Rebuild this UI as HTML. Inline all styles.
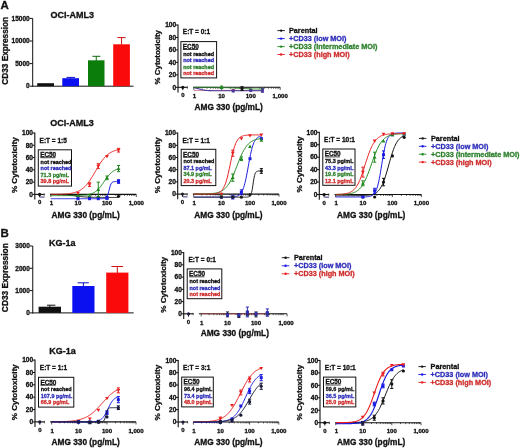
<!DOCTYPE html>
<html><head><meta charset="utf-8"><style>
html,body{margin:0;padding:0;background:#fff;}
body{width:520px;height:448px;overflow:hidden;}
svg{display:block;will-change:transform;filter:blur(0.22px);}
text{font-family:"Liberation Sans", sans-serif;}
</style></head><body>
<svg width="520" height="448" viewBox="0 0 520 448">
<rect width="520" height="448" fill="#fff"/>
<text x="0.60" y="9.36" font-size="11.5" fill="#111111" text-anchor="start" font-weight="bold" stroke="#111111" stroke-width="0.3" >A</text>
<text x="0.60" y="237.46" font-size="11.5" fill="#111111" text-anchor="start" font-weight="bold" stroke="#111111" stroke-width="0.3" >B</text>
<line x1="32.70" y1="18.40" x2="32.70" y2="86.70" stroke="#111111" stroke-width="1.0" />
<line x1="32.20" y1="86.20" x2="133.50" y2="86.20" stroke="#111111" stroke-width="1.0" />
<line x1="29.70" y1="86.20" x2="32.70" y2="86.20" stroke="#111111" stroke-width="1.0" />
<text x="29.70" y="88.44" font-size="6.5" fill="#111111" text-anchor="end" font-weight="bold" stroke="#111111" stroke-width="0.3" >0</text>
<line x1="29.70" y1="63.60" x2="32.70" y2="63.60" stroke="#111111" stroke-width="1.0" />
<text x="29.70" y="65.84" font-size="6.5" fill="#111111" text-anchor="end" font-weight="bold" stroke="#111111" stroke-width="0.3" >5000</text>
<line x1="29.70" y1="41.00" x2="32.70" y2="41.00" stroke="#111111" stroke-width="1.0" />
<text x="29.70" y="43.24" font-size="6.5" fill="#111111" text-anchor="end" font-weight="bold" stroke="#111111" stroke-width="0.3" >10000</text>
<line x1="29.70" y1="18.40" x2="32.70" y2="18.40" stroke="#111111" stroke-width="1.0" />
<text x="29.70" y="20.64" font-size="6.5" fill="#111111" text-anchor="end" font-weight="bold" stroke="#111111" stroke-width="0.3" >15000</text>
<rect x="37.20" y="83.20" width="16.80" height="3.00" fill="#111111" stroke="none" stroke-width="0"/>
<rect x="62.30" y="78.20" width="16.70" height="8.00" fill="#0a10f0" stroke="none" stroke-width="0"/>
<line x1="70.65" y1="77.40" x2="70.65" y2="78.70" stroke="#1010c0" stroke-width="1.0" />
<line x1="66.50" y1="77.40" x2="75.00" y2="77.40" stroke="#1010c0" stroke-width="1.0" />
<rect x="88.00" y="60.30" width="16.50" height="25.90" fill="#0b7d0b" stroke="none" stroke-width="0"/>
<line x1="96.25" y1="56.30" x2="96.25" y2="60.80" stroke="#0a6a0a" stroke-width="1.0" />
<line x1="92.40" y1="56.30" x2="100.40" y2="56.30" stroke="#0a6a0a" stroke-width="1.0" />
<rect x="113.20" y="44.30" width="16.70" height="41.90" fill="#fa0a0a" stroke="none" stroke-width="0"/>
<line x1="121.55" y1="37.60" x2="121.55" y2="44.80" stroke="#d01010" stroke-width="1.0" />
<line x1="117.40" y1="37.60" x2="125.60" y2="37.60" stroke="#d01010" stroke-width="1.0" />
<text transform="translate(7.74,50.80) rotate(-90)" x="0" y="0" font-size="8.25" fill="#111111" text-anchor="middle" font-weight="bold" stroke="#111111" stroke-width="0.3">CD33 Expression</text>
<text x="72.30" y="17.90" font-size="9.0" fill="#111111" text-anchor="middle" font-weight="bold" stroke="#111111" stroke-width="0.3" >OCI-AML3</text>
<line x1="32.75" y1="246.00" x2="32.75" y2="313.40" stroke="#111111" stroke-width="1.0" />
<line x1="32.25" y1="312.90" x2="133.70" y2="312.90" stroke="#111111" stroke-width="1.0" />
<line x1="29.75" y1="312.90" x2="32.75" y2="312.90" stroke="#111111" stroke-width="1.0" />
<text x="29.75" y="315.14" font-size="6.5" fill="#111111" text-anchor="end" font-weight="bold" stroke="#111111" stroke-width="0.3" >0</text>
<line x1="29.75" y1="290.60" x2="32.75" y2="290.60" stroke="#111111" stroke-width="1.0" />
<text x="29.75" y="292.84" font-size="6.5" fill="#111111" text-anchor="end" font-weight="bold" stroke="#111111" stroke-width="0.3" >1000</text>
<line x1="29.75" y1="268.30" x2="32.75" y2="268.30" stroke="#111111" stroke-width="1.0" />
<text x="29.75" y="270.54" font-size="6.5" fill="#111111" text-anchor="end" font-weight="bold" stroke="#111111" stroke-width="0.3" >2000</text>
<line x1="29.75" y1="246.00" x2="32.75" y2="246.00" stroke="#111111" stroke-width="1.0" />
<text x="29.75" y="248.24" font-size="6.5" fill="#111111" text-anchor="end" font-weight="bold" stroke="#111111" stroke-width="0.3" >3000</text>
<rect x="38.60" y="306.70" width="22.40" height="6.20" fill="#111111" stroke="none" stroke-width="0"/>
<line x1="49.80" y1="305.20" x2="49.80" y2="307.20" stroke="#111" stroke-width="1.0" />
<line x1="47.00" y1="305.20" x2="55.40" y2="305.20" stroke="#111" stroke-width="1.0" />
<rect x="72.30" y="286.00" width="22.20" height="26.90" fill="#0a10f0" stroke="none" stroke-width="0"/>
<line x1="83.40" y1="282.80" x2="83.40" y2="286.50" stroke="#1010c0" stroke-width="1.0" />
<line x1="77.60" y1="282.80" x2="88.80" y2="282.80" stroke="#1010c0" stroke-width="1.0" />
<rect x="106.20" y="272.60" width="22.20" height="40.30" fill="#fa0a0a" stroke="none" stroke-width="0"/>
<line x1="117.30" y1="266.50" x2="117.30" y2="273.10" stroke="#d01010" stroke-width="1.0" />
<line x1="111.40" y1="266.50" x2="123.10" y2="266.50" stroke="#d01010" stroke-width="1.0" />
<text transform="translate(7.79,277.70) rotate(-90)" x="0" y="0" font-size="8.4" fill="#111111" text-anchor="middle" font-weight="bold" stroke="#111111" stroke-width="0.3">CD33 Expression</text>
<text x="62.20" y="245.70" font-size="9.0" fill="#111111" text-anchor="middle" font-weight="bold" stroke="#111111" stroke-width="0.3" >KG-1a</text>
<line x1="178.00" y1="24.50" x2="178.00" y2="92.50" stroke="#111111" stroke-width="1.1" />
<line x1="175.70" y1="87.30" x2="178.00" y2="87.30" stroke="#111111" stroke-width="1.0" />
<text x="176.20" y="89.57" font-size="6.6" fill="#111111" text-anchor="end" font-weight="bold" stroke="#111111" stroke-width="0.3" >0</text>
<line x1="175.70" y1="74.84" x2="178.00" y2="74.84" stroke="#111111" stroke-width="1.0" />
<text x="176.20" y="77.11" font-size="6.6" fill="#111111" text-anchor="end" font-weight="bold" stroke="#111111" stroke-width="0.3" >20</text>
<line x1="175.70" y1="62.38" x2="178.00" y2="62.38" stroke="#111111" stroke-width="1.0" />
<text x="176.20" y="64.65" font-size="6.6" fill="#111111" text-anchor="end" font-weight="bold" stroke="#111111" stroke-width="0.3" >40</text>
<line x1="175.70" y1="49.92" x2="178.00" y2="49.92" stroke="#111111" stroke-width="1.0" />
<text x="176.20" y="52.19" font-size="6.6" fill="#111111" text-anchor="end" font-weight="bold" stroke="#111111" stroke-width="0.3" >60</text>
<line x1="175.70" y1="37.46" x2="178.00" y2="37.46" stroke="#111111" stroke-width="1.0" />
<text x="176.20" y="39.73" font-size="6.6" fill="#111111" text-anchor="end" font-weight="bold" stroke="#111111" stroke-width="0.3" >80</text>
<line x1="175.70" y1="25.00" x2="178.00" y2="25.00" stroke="#111111" stroke-width="1.0" />
<text x="176.20" y="27.27" font-size="6.6" fill="#111111" text-anchor="end" font-weight="bold" stroke="#111111" stroke-width="0.3" >100</text>
<line x1="178.00" y1="87.30" x2="187.80" y2="87.30" stroke="#111111" stroke-width="1.1" />
<line x1="182.80" y1="87.30" x2="182.80" y2="90.10" stroke="#111111" stroke-width="1.0" />
<line x1="187.40" y1="86.30" x2="187.40" y2="88.70" stroke="#444" stroke-width="0.9" />
<text x="182.80" y="97.36" font-size="6.0" fill="#111111" text-anchor="middle" font-weight="bold" stroke="#111111" stroke-width="0.3" >0</text>
<line x1="193.20" y1="87.30" x2="280.20" y2="87.30" stroke="#111111" stroke-width="1.1" />
<line x1="193.80" y1="87.30" x2="193.80" y2="89.90" stroke="#111111" stroke-width="0.7" />
<line x1="202.17" y1="87.30" x2="202.17" y2="88.70" stroke="#111111" stroke-width="0.7" />
<line x1="207.06" y1="87.30" x2="207.06" y2="88.70" stroke="#111111" stroke-width="0.7" />
<line x1="210.54" y1="87.30" x2="210.54" y2="88.70" stroke="#111111" stroke-width="0.7" />
<line x1="213.23" y1="87.30" x2="213.23" y2="88.70" stroke="#111111" stroke-width="0.7" />
<line x1="215.43" y1="87.30" x2="215.43" y2="88.70" stroke="#111111" stroke-width="0.7" />
<line x1="217.29" y1="87.30" x2="217.29" y2="88.70" stroke="#111111" stroke-width="0.7" />
<line x1="218.91" y1="87.30" x2="218.91" y2="88.70" stroke="#111111" stroke-width="0.7" />
<line x1="220.33" y1="87.30" x2="220.33" y2="88.70" stroke="#111111" stroke-width="0.7" />
<line x1="221.60" y1="87.30" x2="221.60" y2="89.90" stroke="#111111" stroke-width="0.7" />
<line x1="230.39" y1="87.30" x2="230.39" y2="88.70" stroke="#111111" stroke-width="0.7" />
<line x1="235.53" y1="87.30" x2="235.53" y2="88.70" stroke="#111111" stroke-width="0.7" />
<line x1="239.18" y1="87.30" x2="239.18" y2="88.70" stroke="#111111" stroke-width="0.7" />
<line x1="242.01" y1="87.30" x2="242.01" y2="88.70" stroke="#111111" stroke-width="0.7" />
<line x1="244.32" y1="87.30" x2="244.32" y2="88.70" stroke="#111111" stroke-width="0.7" />
<line x1="246.28" y1="87.30" x2="246.28" y2="88.70" stroke="#111111" stroke-width="0.7" />
<line x1="247.97" y1="87.30" x2="247.97" y2="88.70" stroke="#111111" stroke-width="0.7" />
<line x1="249.46" y1="87.30" x2="249.46" y2="88.70" stroke="#111111" stroke-width="0.7" />
<line x1="250.80" y1="87.30" x2="250.80" y2="89.90" stroke="#111111" stroke-width="0.7" />
<line x1="259.59" y1="87.30" x2="259.59" y2="88.70" stroke="#111111" stroke-width="0.7" />
<line x1="264.73" y1="87.30" x2="264.73" y2="88.70" stroke="#111111" stroke-width="0.7" />
<line x1="268.38" y1="87.30" x2="268.38" y2="88.70" stroke="#111111" stroke-width="0.7" />
<line x1="271.21" y1="87.30" x2="271.21" y2="88.70" stroke="#111111" stroke-width="0.7" />
<line x1="273.52" y1="87.30" x2="273.52" y2="88.70" stroke="#111111" stroke-width="0.7" />
<line x1="275.48" y1="87.30" x2="275.48" y2="88.70" stroke="#111111" stroke-width="0.7" />
<line x1="277.17" y1="87.30" x2="277.17" y2="88.70" stroke="#111111" stroke-width="0.7" />
<line x1="278.66" y1="87.30" x2="278.66" y2="88.70" stroke="#111111" stroke-width="0.7" />
<line x1="280.20" y1="87.30" x2="280.20" y2="89.90" stroke="#111111" stroke-width="0.7" />
<text x="194.40" y="98.00" font-size="6.1" fill="#111111" text-anchor="middle" font-weight="bold" stroke="#111111" stroke-width="0.3" >1</text>
<text x="221.60" y="98.00" font-size="6.1" fill="#111111" text-anchor="middle" font-weight="bold" stroke="#111111" stroke-width="0.3" >10</text>
<text x="250.80" y="98.00" font-size="6.1" fill="#111111" text-anchor="middle" font-weight="bold" stroke="#111111" stroke-width="0.3" >100</text>
<text x="280.20" y="98.00" font-size="6.1" fill="#111111" text-anchor="middle" font-weight="bold" stroke="#111111" stroke-width="0.3" >1,000</text>
<text x="228.70" y="110.16" font-size="8.3" fill="#111111" text-anchor="middle" font-weight="bold" stroke="#111111" stroke-width="0.3" >AMG 330 (pg/mL)</text>
<text transform="translate(160.22,57.20) rotate(-90)" x="0" y="0" font-size="7.9" fill="#111111" text-anchor="middle" font-weight="bold" stroke="#111111" stroke-width="0.3">% Cytotoxicity</text>
<text x="182.80" y="34.04" font-size="6.5" fill="#111111" text-anchor="start" font-weight="bold" stroke="#111111" stroke-width="0.3" >E:T = 0:1</text>
<rect x="180.90" y="41.60" width="35.70" height="36.30" fill="white" stroke="#111" stroke-width="1.0"/>
<text x="182.80" y="48.80" font-size="6.4" fill="#111111" text-anchor="start" font-weight="bold" stroke="#111111" stroke-width="0.3" >EC50</text>
<line x1="182.90" y1="49.50" x2="198.10" y2="49.50" stroke="#111111" stroke-width="0.8" />
<text x="183.20" y="55.77" font-size="5.45" fill="#111111" text-anchor="start" font-weight="bold" stroke="#111111" stroke-width="0.3" >not reached</text>
<text x="183.20" y="62.27" font-size="5.45" fill="#2e2eba" text-anchor="start" font-weight="bold" stroke="#2e2eba" stroke-width="0.3" >not reached</text>
<text x="183.20" y="68.77" font-size="5.45" fill="#2e802e" text-anchor="start" font-weight="bold" stroke="#2e802e" stroke-width="0.3" >not reached</text>
<text x="183.20" y="75.27" font-size="5.45" fill="#cf2c2c" text-anchor="start" font-weight="bold" stroke="#cf2c2c" stroke-width="0.3" >not reached</text>
<polyline points="193.80,90.41 194.36,90.41 194.91,90.41 195.47,90.41 196.02,90.41 196.58,90.41 197.13,90.41 197.69,90.41 198.24,90.41 198.80,90.41 199.36,90.41 199.91,90.41 200.47,90.41 201.02,90.41 201.58,90.41 202.13,90.41 202.69,90.41 203.24,90.41 203.80,90.41 204.35,90.41 204.91,90.41 205.47,90.41 206.02,90.41 206.58,90.41 207.13,90.41 207.69,90.41 208.24,90.41 208.80,90.41 209.35,90.41 209.91,90.41 210.47,90.41 211.02,90.41 211.58,90.41 212.13,90.41 212.69,90.41 213.24,90.41 213.80,90.41 214.35,90.41 214.91,90.41 215.47,90.41 216.02,90.41 216.58,90.41 217.13,90.41 217.69,90.41 218.24,90.41 218.80,90.41 219.35,90.41 219.91,90.41 220.47,90.41 221.02,90.41 221.58,90.41 222.16,90.41 222.74,90.41 223.33,90.41 223.91,90.41 224.49,90.41 225.08,90.41 225.66,90.41 226.24,90.41 226.83,90.41 227.41,90.41 227.99,90.41 228.58,90.41 229.16,90.41 229.74,90.41 230.33,90.41 230.91,90.41 231.49,90.41 232.08,90.41 232.66,90.41 233.24,90.41 233.83,90.41 234.41,90.41 235.00,90.41 235.58,90.41 236.16,90.41 236.75,90.41 237.33,90.41 237.91,90.41 238.50,90.41 239.08,90.41 239.66,90.41 240.25,90.41 240.83,90.41 241.41,90.41 242.00,90.41 242.58,90.41 243.16,90.41 243.75,90.41 244.33,90.41 244.91,90.41 245.50,90.41 246.08,90.41 246.67,90.41 247.25,90.41 247.83,90.41 248.42,90.41 249.00,90.41 249.58,90.41 250.17,90.41 250.75,90.41 251.33,90.41 251.92,90.41 252.50,90.41 253.08,90.41 253.67,90.41 254.25,90.41 254.83,90.41 255.42,90.41 256.00,90.41 256.58,90.41 257.17,90.41 257.75,90.41 258.34,90.41 258.92,90.41 259.50,90.41 260.09,90.41 260.67,90.41 261.25,90.41 261.84,90.41 262.42,90.41" fill="none" stroke="#c04060" stroke-width="0.8"/>
<polygon points="231.32,89.01 235.12,89.01 233.22,92.31" fill="#c04060"/>
<polygon points="248.90,89.01 252.70,89.01 250.80,92.31" fill="#c04060"/>
<polyline points="193.80,87.75 194.36,87.83 194.91,87.92 195.47,88.02 196.02,88.13 196.58,88.25 197.13,88.38 197.69,88.52 198.24,88.67 198.80,88.82 199.36,88.98 199.91,89.14 200.47,89.29 201.02,89.44 201.58,89.59 202.13,89.72 202.69,89.85 203.24,89.96 203.80,90.07 204.35,90.16 204.91,90.24 205.47,90.31 206.02,90.38 206.58,90.43 207.13,90.48 207.69,90.51 208.24,90.55 208.80,90.58 209.35,90.60 209.91,90.62 210.47,90.64 211.02,90.65 211.58,90.67 212.13,90.68 212.69,90.68 213.24,90.69 213.80,90.70 214.35,90.70 214.91,90.71 215.47,90.71 216.02,90.71 216.58,90.71 217.13,90.72 217.69,90.72 218.24,90.72 218.80,90.72 219.35,90.72 219.91,90.72 220.47,90.72 221.02,90.72 221.58,90.72 222.16,90.72 222.74,90.72 223.33,90.73 223.91,90.73 224.49,90.73 225.08,90.73 225.66,90.73 226.24,90.73 226.83,90.73 227.41,90.73 227.99,90.73 228.58,90.73 229.16,90.73 229.74,90.73 230.33,90.73 230.91,90.73 231.49,90.73 232.08,90.73 232.66,90.73 233.24,90.73 233.83,90.73 234.41,90.73 235.00,90.73 235.58,90.73 236.16,90.73 236.75,90.73 237.33,90.73 237.91,90.73 238.50,90.73 239.08,90.73 239.66,90.73 240.25,90.73 240.83,90.73 241.41,90.73 242.00,90.73 242.58,90.73 243.16,90.73 243.75,90.73 244.33,90.73 244.91,90.73 245.50,90.73 246.08,90.73 246.67,90.73 247.25,90.73 247.83,90.73 248.42,90.73 249.00,90.73 249.58,90.73 250.17,90.73 250.75,90.73 251.33,90.73 251.92,90.73 252.50,90.73 253.08,90.73 253.67,90.73 254.25,90.73 254.83,90.73 255.42,90.73 256.00,90.73 256.58,90.73 257.17,90.73 257.75,90.73 258.34,90.73 258.92,90.73 259.50,90.73 260.09,90.73 260.67,90.73 261.25,90.73 261.84,90.73 262.42,90.73" fill="none" stroke="#48389a" stroke-width="1.1"/>
<rect x="231.72" y="89.54" width="3.0" height="3.0" fill="#48389a"/>
<rect x="249.30" y="88.91" width="3.0" height="3.0" fill="#48389a"/>
<line x1="262.42" y1="92.28" x2="262.42" y2="88.55" stroke="#48389a" stroke-width="1.0" />
<line x1="260.82" y1="88.55" x2="264.02" y2="88.55" stroke="#48389a" stroke-width="1.0" />
<line x1="260.82" y1="92.28" x2="264.02" y2="92.28" stroke="#48389a" stroke-width="1.0" />
<rect x="260.92" y="88.91" width="3.0" height="3.0" fill="#48389a"/>
<polyline points="193.80,87.31 194.36,87.31 194.91,87.31 195.47,87.31 196.02,87.31 196.58,87.31 197.13,87.31 197.69,87.31 198.24,87.32 198.80,87.32 199.36,87.32 199.91,87.32 200.47,87.32 201.02,87.32 201.58,87.32 202.13,87.33 202.69,87.33 203.24,87.33 203.80,87.33 204.35,87.33 204.91,87.34 205.47,87.34 206.02,87.34 206.58,87.34 207.13,87.35 207.69,87.35 208.24,87.35 208.80,87.36 209.35,87.36 209.91,87.36 210.47,87.37 211.02,87.37 211.58,87.38 212.13,87.38 212.69,87.39 213.24,87.40 213.80,87.40 214.35,87.41 214.91,87.42 215.47,87.42 216.02,87.43 216.58,87.44 217.13,87.45 217.69,87.46 218.24,87.47 218.80,87.48 219.35,87.49 219.91,87.51 220.47,87.52 221.02,87.53 221.58,87.55 222.16,87.56 222.74,87.58 223.33,87.59 223.91,87.61 224.49,87.63 225.08,87.65 225.66,87.67 226.24,87.69 226.83,87.71 227.41,87.74 227.99,87.76 228.58,87.78 229.16,87.81 229.74,87.83 230.33,87.86 230.91,87.89 231.49,87.92 232.08,87.95 232.66,87.97 233.24,88.00 233.83,88.04 234.41,88.07 235.00,88.10 235.58,88.13 236.16,88.16 236.75,88.19 237.33,88.23 237.91,88.26 238.50,88.29 239.08,88.32 239.66,88.35 240.25,88.39 240.83,88.42 241.41,88.45 242.00,88.48 242.58,88.51 243.16,88.54 243.75,88.57 244.33,88.59 244.91,88.62 245.50,88.65 246.08,88.67 246.67,88.70 247.25,88.72 247.83,88.74 248.42,88.77 249.00,88.79 249.58,88.81 250.17,88.83 250.75,88.85 251.33,88.86 251.92,88.88 252.50,88.90 253.08,88.91 253.67,88.93 254.25,88.94 254.83,88.96 255.42,88.97 256.00,88.98 256.58,88.99 257.17,89.00 257.75,89.01 258.34,89.02 258.92,89.03 259.50,89.04 260.09,89.05 260.67,89.06 261.25,89.06 261.84,89.07 262.42,89.08" fill="none" stroke="#1f8a1f" stroke-width="0.9"/>
<line x1="221.60" y1="88.55" x2="221.60" y2="86.05" stroke="#1f8a1f" stroke-width="1.0" />
<line x1="220.00" y1="86.05" x2="223.20" y2="86.05" stroke="#1f8a1f" stroke-width="1.0" />
<line x1="220.00" y1="88.55" x2="223.20" y2="88.55" stroke="#1f8a1f" stroke-width="1.0" />
<polygon points="219.70,88.70 223.50,88.70 221.60,85.40" fill="#1f8a1f"/>
<polyline points="193.80,87.92 194.36,87.92 194.91,87.92 195.47,87.92 196.02,87.92 196.58,87.92 197.13,87.92 197.69,87.92 198.24,87.92 198.80,87.92 199.36,87.92 199.91,87.92 200.47,87.92 201.02,87.92 201.58,87.92 202.13,87.92 202.69,87.92 203.24,87.92 203.80,87.92 204.35,87.92 204.91,87.92 205.47,87.92 206.02,87.92 206.58,87.92 207.13,87.92 207.69,87.92 208.24,87.92 208.80,87.92 209.35,87.92 209.91,87.92 210.47,87.92 211.02,87.92 211.58,87.92 212.13,87.92 212.69,87.92 213.24,87.92 213.80,87.92 214.35,87.92 214.91,87.92 215.47,87.92 216.02,87.92 216.58,87.92 217.13,87.92 217.69,87.92 218.24,87.92 218.80,87.92 219.35,87.92 219.91,87.92 220.47,87.92 221.02,87.92 221.58,87.92 222.16,87.92 222.74,87.92 223.33,87.92 223.91,87.92 224.49,87.92 225.08,87.92 225.66,87.92 226.24,87.92 226.83,87.92 227.41,87.92 227.99,87.92 228.58,87.92 229.16,87.92 229.74,87.92 230.33,87.92 230.91,87.92 231.49,87.92 232.08,87.92 232.66,87.92 233.24,87.92 233.83,87.92 234.41,87.92 235.00,87.92 235.58,87.92 236.16,87.92 236.75,87.92 237.33,87.92 237.91,87.92 238.50,87.92 239.08,87.92 239.66,87.92 240.25,87.92 240.83,87.92 241.41,87.92 242.00,87.92 242.58,87.92 243.16,87.92 243.75,87.92 244.33,87.92 244.91,87.92 245.50,87.92 246.08,87.92 246.67,87.92 247.25,87.92 247.83,87.92 248.42,87.92 249.00,87.92 249.58,87.92 250.17,87.92 250.75,87.92 251.33,87.92 251.92,87.92 252.50,87.92 253.08,87.92 253.67,87.92 254.25,87.92 254.83,87.92 255.42,87.92 256.00,87.92 256.58,87.92 257.17,87.92 257.75,87.92 258.34,87.92 258.92,87.92 259.50,87.92 260.09,87.92 260.67,87.92 261.25,87.92 261.84,87.92 262.42,87.92" fill="none" stroke="#111111" stroke-width="0.0"/>
<circle cx="182.80" cy="87.30" r="1.6" fill="#111111"/>
<line x1="242.01" y1="90.41" x2="242.01" y2="86.68" stroke="#111111" stroke-width="1.0" />
<line x1="240.41" y1="86.68" x2="243.61" y2="86.68" stroke="#111111" stroke-width="1.0" />
<line x1="240.41" y1="90.41" x2="243.61" y2="90.41" stroke="#111111" stroke-width="1.0" />
<circle cx="242.01" cy="88.55" r="1.6" fill="#111111"/>
<line x1="34.80" y1="132.50" x2="34.80" y2="199.60" stroke="#111111" stroke-width="1.1" />
<line x1="32.50" y1="194.40" x2="34.80" y2="194.40" stroke="#111111" stroke-width="1.0" />
<text x="33.00" y="196.67" font-size="6.6" fill="#111111" text-anchor="end" font-weight="bold" stroke="#111111" stroke-width="0.3" >0</text>
<line x1="32.50" y1="182.12" x2="34.80" y2="182.12" stroke="#111111" stroke-width="1.0" />
<text x="33.00" y="184.39" font-size="6.6" fill="#111111" text-anchor="end" font-weight="bold" stroke="#111111" stroke-width="0.3" >20</text>
<line x1="32.50" y1="169.84" x2="34.80" y2="169.84" stroke="#111111" stroke-width="1.0" />
<text x="33.00" y="172.11" font-size="6.6" fill="#111111" text-anchor="end" font-weight="bold" stroke="#111111" stroke-width="0.3" >40</text>
<line x1="32.50" y1="157.56" x2="34.80" y2="157.56" stroke="#111111" stroke-width="1.0" />
<text x="33.00" y="159.83" font-size="6.6" fill="#111111" text-anchor="end" font-weight="bold" stroke="#111111" stroke-width="0.3" >60</text>
<line x1="32.50" y1="145.28" x2="34.80" y2="145.28" stroke="#111111" stroke-width="1.0" />
<text x="33.00" y="147.55" font-size="6.6" fill="#111111" text-anchor="end" font-weight="bold" stroke="#111111" stroke-width="0.3" >80</text>
<line x1="32.50" y1="133.00" x2="34.80" y2="133.00" stroke="#111111" stroke-width="1.0" />
<text x="33.00" y="135.27" font-size="6.6" fill="#111111" text-anchor="end" font-weight="bold" stroke="#111111" stroke-width="0.3" >100</text>
<line x1="34.80" y1="194.40" x2="44.60" y2="194.40" stroke="#111111" stroke-width="1.1" />
<line x1="39.60" y1="194.40" x2="39.60" y2="197.20" stroke="#111111" stroke-width="1.0" />
<line x1="44.20" y1="193.40" x2="44.20" y2="195.80" stroke="#444" stroke-width="0.9" />
<rect x="39.90" y="196.30" width="4.70" height="1.60" fill="#8080a8" stroke="none" stroke-width="0"/>
<text x="39.60" y="204.46" font-size="6.0" fill="#111111" text-anchor="middle" font-weight="bold" stroke="#111111" stroke-width="0.3" >0</text>
<line x1="50.00" y1="194.40" x2="136.30" y2="194.40" stroke="#111111" stroke-width="1.1" />
<line x1="50.80" y1="194.40" x2="50.80" y2="197.00" stroke="#111111" stroke-width="0.7" />
<line x1="58.99" y1="194.40" x2="58.99" y2="195.80" stroke="#111111" stroke-width="0.7" />
<line x1="63.78" y1="194.40" x2="63.78" y2="195.80" stroke="#111111" stroke-width="0.7" />
<line x1="67.18" y1="194.40" x2="67.18" y2="195.80" stroke="#111111" stroke-width="0.7" />
<line x1="69.81" y1="194.40" x2="69.81" y2="195.80" stroke="#111111" stroke-width="0.7" />
<line x1="71.97" y1="194.40" x2="71.97" y2="195.80" stroke="#111111" stroke-width="0.7" />
<line x1="73.79" y1="194.40" x2="73.79" y2="195.80" stroke="#111111" stroke-width="0.7" />
<line x1="75.36" y1="194.40" x2="75.36" y2="195.80" stroke="#111111" stroke-width="0.7" />
<line x1="76.76" y1="194.40" x2="76.76" y2="195.80" stroke="#111111" stroke-width="0.7" />
<line x1="78.00" y1="194.40" x2="78.00" y2="197.00" stroke="#111111" stroke-width="0.7" />
<line x1="86.73" y1="194.40" x2="86.73" y2="195.80" stroke="#111111" stroke-width="0.7" />
<line x1="91.84" y1="194.40" x2="91.84" y2="195.80" stroke="#111111" stroke-width="0.7" />
<line x1="95.46" y1="194.40" x2="95.46" y2="195.80" stroke="#111111" stroke-width="0.7" />
<line x1="98.27" y1="194.40" x2="98.27" y2="195.80" stroke="#111111" stroke-width="0.7" />
<line x1="100.57" y1="194.40" x2="100.57" y2="195.80" stroke="#111111" stroke-width="0.7" />
<line x1="102.51" y1="194.40" x2="102.51" y2="195.80" stroke="#111111" stroke-width="0.7" />
<line x1="104.19" y1="194.40" x2="104.19" y2="195.80" stroke="#111111" stroke-width="0.7" />
<line x1="105.67" y1="194.40" x2="105.67" y2="195.80" stroke="#111111" stroke-width="0.7" />
<line x1="107.00" y1="194.40" x2="107.00" y2="197.00" stroke="#111111" stroke-width="0.7" />
<line x1="115.73" y1="194.40" x2="115.73" y2="195.80" stroke="#111111" stroke-width="0.7" />
<line x1="120.84" y1="194.40" x2="120.84" y2="195.80" stroke="#111111" stroke-width="0.7" />
<line x1="124.46" y1="194.40" x2="124.46" y2="195.80" stroke="#111111" stroke-width="0.7" />
<line x1="127.27" y1="194.40" x2="127.27" y2="195.80" stroke="#111111" stroke-width="0.7" />
<line x1="129.57" y1="194.40" x2="129.57" y2="195.80" stroke="#111111" stroke-width="0.7" />
<line x1="131.51" y1="194.40" x2="131.51" y2="195.80" stroke="#111111" stroke-width="0.7" />
<line x1="133.19" y1="194.40" x2="133.19" y2="195.80" stroke="#111111" stroke-width="0.7" />
<line x1="134.67" y1="194.40" x2="134.67" y2="195.80" stroke="#111111" stroke-width="0.7" />
<line x1="136.30" y1="194.40" x2="136.30" y2="197.00" stroke="#111111" stroke-width="0.7" />
<text x="51.40" y="205.10" font-size="6.1" fill="#111111" text-anchor="middle" font-weight="bold" stroke="#111111" stroke-width="0.3" >1</text>
<text x="78.00" y="205.10" font-size="6.1" fill="#111111" text-anchor="middle" font-weight="bold" stroke="#111111" stroke-width="0.3" >10</text>
<text x="107.00" y="205.10" font-size="6.1" fill="#111111" text-anchor="middle" font-weight="bold" stroke="#111111" stroke-width="0.3" >100</text>
<text x="136.30" y="205.10" font-size="6.1" fill="#111111" text-anchor="middle" font-weight="bold" stroke="#111111" stroke-width="0.3" >1,000</text>
<text x="85.65" y="217.56" font-size="8.3" fill="#111111" text-anchor="middle" font-weight="bold" stroke="#111111" stroke-width="0.3" >AMG 330 (pg/mL)</text>
<text transform="translate(17.09,165.20) rotate(-90)" x="0" y="0" font-size="8.1" fill="#111111" text-anchor="middle" font-weight="bold" stroke="#111111" stroke-width="0.3">% Cytotoxicity</text>
<text x="39.60" y="142.64" font-size="6.5" fill="#111111" text-anchor="start" font-weight="bold" stroke="#111111" stroke-width="0.3" >E:T = 1:5</text>
<rect x="38.30" y="149.80" width="33.20" height="36.30" fill="white" stroke="#111" stroke-width="1.0"/>
<text x="40.20" y="157.00" font-size="6.4" fill="#111111" text-anchor="start" font-weight="bold" stroke="#111111" stroke-width="0.3" >EC50</text>
<line x1="40.30" y1="157.70" x2="55.50" y2="157.70" stroke="#111111" stroke-width="0.8" />
<text x="40.60" y="163.97" font-size="5.45" fill="#111111" text-anchor="start" font-weight="bold" stroke="#111111" stroke-width="0.3" >not reached</text>
<text x="40.60" y="170.47" font-size="5.45" fill="#2e2eba" text-anchor="start" font-weight="bold" stroke="#2e2eba" stroke-width="0.3" >not reached</text>
<text x="40.60" y="176.97" font-size="5.45" fill="#2e802e" text-anchor="start" font-weight="bold" stroke="#2e802e" stroke-width="0.3" >71.3 pg/mL</text>
<text x="40.60" y="183.47" font-size="5.45" fill="#cf2c2c" text-anchor="start" font-weight="bold" stroke="#cf2c2c" stroke-width="0.3" >39.8 pg/mL</text>
<polyline points="50.80,194.45 51.34,194.45 51.89,194.46 52.43,194.46 52.97,194.47 53.52,194.47 54.06,194.48 54.60,194.49 55.15,194.50 55.69,194.51 56.24,194.52 56.78,194.53 57.32,194.54 57.87,194.55 58.41,194.56 58.95,194.58 59.50,194.60 60.04,194.61 60.58,194.63 61.13,194.65 61.67,194.68 62.21,194.70 62.76,194.72 63.30,194.75 63.84,194.78 64.39,194.81 64.93,194.85 65.48,194.88 66.02,194.92 66.56,194.96 67.11,195.01 67.65,195.05 68.19,195.10 68.74,195.15 69.28,195.21 69.82,195.26 70.37,195.32 70.91,195.38 71.45,195.44 72.00,195.51 72.54,195.58 73.08,195.64 73.63,195.71 74.17,195.78 74.72,195.85 75.26,195.92 75.80,195.99 76.35,196.06 76.89,196.13 77.43,196.20 77.98,196.27 78.55,196.34 79.13,196.40 79.71,196.46 80.29,196.53 80.87,196.58 81.45,196.64 82.03,196.70 82.61,196.75 83.19,196.80 83.77,196.84 84.35,196.89 84.93,196.93 85.51,196.97 86.09,197.01 86.67,197.04 87.25,197.08 87.83,197.11 88.41,197.13 88.99,197.16 89.57,197.19 90.14,197.21 90.72,197.23 91.30,197.25 91.88,197.27 92.46,197.28 93.04,197.30 93.62,197.31 94.20,197.33 94.78,197.34 95.36,197.35 95.94,197.36 96.52,197.37 97.10,197.38 97.68,197.39 98.26,197.39 98.84,197.40 99.42,197.41 100.00,197.41 100.58,197.42 101.16,197.42 101.73,197.43 102.31,197.43 102.89,197.43 103.47,197.44 104.05,197.44 104.63,197.44 105.21,197.44 105.79,197.45 106.37,197.45 106.95,197.45 107.53,197.45 108.11,197.45 108.69,197.46 109.27,197.46 109.85,197.46 110.43,197.46 111.01,197.46 111.59,197.46 112.17,197.46 112.75,197.46 113.32,197.46 113.90,197.46 114.48,197.46 115.06,197.46 115.64,197.47 116.22,197.47 116.80,197.47 117.38,197.47 117.96,197.47 118.54,197.47" fill="none" stroke="#111111" stroke-width="1.0"/>
<circle cx="39.60" cy="194.40" r="1.6" fill="#111111"/>
<circle cx="78.00" cy="196.24" r="1.6" fill="#111111"/>
<circle cx="89.54" cy="197.47" r="1.6" fill="#111111"/>
<circle cx="98.27" cy="197.47" r="1.6" fill="#111111"/>
<circle cx="107.00" cy="197.47" r="1.6" fill="#111111"/>
<circle cx="118.54" cy="196.24" r="1.6" fill="#111111"/>
<polyline points="50.80,198.70 51.34,198.70 51.89,198.70 52.43,198.70 52.97,198.70 53.52,198.70 54.06,198.70 54.60,198.70 55.15,198.70 55.69,198.70 56.24,198.70 56.78,198.70 57.32,198.70 57.87,198.70 58.41,198.70 58.95,198.70 59.50,198.70 60.04,198.70 60.58,198.70 61.13,198.70 61.67,198.70 62.21,198.70 62.76,198.70 63.30,198.70 63.84,198.70 64.39,198.70 64.93,198.70 65.48,198.70 66.02,198.70 66.56,198.70 67.11,198.70 67.65,198.70 68.19,198.70 68.74,198.70 69.28,198.70 69.82,198.70 70.37,198.70 70.91,198.70 71.45,198.70 72.00,198.70 72.54,198.70 73.08,198.70 73.63,198.70 74.17,198.70 74.72,198.70 75.26,198.70 75.80,198.70 76.35,198.70 76.89,198.70 77.43,198.70 77.98,198.70 78.55,198.70 79.13,198.70 79.71,198.70 80.29,198.70 80.87,198.70 81.45,198.70 82.03,198.70 82.61,198.70 83.19,198.70 83.77,198.70 84.35,198.70 84.93,198.70 85.51,198.70 86.09,198.70 86.67,198.70 87.25,198.70 87.83,198.70 88.41,198.70 88.99,198.70 89.57,198.70 90.14,198.70 90.72,198.70 91.30,198.70 91.88,198.70 92.46,198.70 93.04,198.70 93.62,198.70 94.20,198.70 94.78,198.70 95.36,198.70 95.94,198.70 96.52,198.70 97.10,198.70 97.68,198.70 98.26,198.70 98.84,198.70 99.42,198.70 100.00,198.70 100.58,198.69 101.16,198.69 101.73,198.68 102.31,198.67 102.89,198.65 103.47,198.62 104.05,198.56 104.63,198.45 105.21,198.28 105.79,197.98 106.37,197.49 106.95,196.71 107.53,195.51 108.11,193.83 108.69,191.70 109.27,189.35 109.85,187.11 110.43,185.25 111.01,183.88 111.59,182.96 112.17,182.37 112.75,182.02 113.32,181.80 113.90,181.68 114.48,181.61 115.06,181.56 115.64,181.54 116.22,181.53 116.80,181.52 117.38,181.51 117.96,181.51 118.54,181.51" fill="none" stroke="#1c1ce0" stroke-width="1.0"/>
<rect x="76.50" y="197.20" width="3.0" height="3.0" fill="#1c1ce0"/>
<rect x="88.04" y="197.20" width="3.0" height="3.0" fill="#1c1ce0"/>
<rect x="96.77" y="197.20" width="3.0" height="3.0" fill="#1c1ce0"/>
<line x1="107.00" y1="199.31" x2="107.00" y2="196.86" stroke="#1c1ce0" stroke-width="1.0" />
<line x1="105.40" y1="196.86" x2="108.60" y2="196.86" stroke="#1c1ce0" stroke-width="1.0" />
<line x1="105.40" y1="199.31" x2="108.60" y2="199.31" stroke="#1c1ce0" stroke-width="1.0" />
<rect x="105.50" y="196.58" width="3.0" height="3.0" fill="#1c1ce0"/>
<line x1="118.54" y1="183.35" x2="118.54" y2="179.66" stroke="#1c1ce0" stroke-width="1.0" />
<line x1="116.94" y1="179.66" x2="120.14" y2="179.66" stroke="#1c1ce0" stroke-width="1.0" />
<line x1="116.94" y1="183.35" x2="120.14" y2="183.35" stroke="#1c1ce0" stroke-width="1.0" />
<rect x="117.04" y="180.01" width="3.0" height="3.0" fill="#1c1ce0"/>
<polyline points="50.80,195.63 51.34,195.63 51.89,195.63 52.43,195.63 52.97,195.63 53.52,195.63 54.06,195.63 54.60,195.63 55.15,195.63 55.69,195.63 56.24,195.63 56.78,195.63 57.32,195.63 57.87,195.63 58.41,195.63 58.95,195.63 59.50,195.63 60.04,195.63 60.58,195.63 61.13,195.62 61.67,195.62 62.21,195.62 62.76,195.62 63.30,195.62 63.84,195.62 64.39,195.62 64.93,195.62 65.48,195.62 66.02,195.62 66.56,195.62 67.11,195.62 67.65,195.62 68.19,195.61 68.74,195.61 69.28,195.61 69.82,195.61 70.37,195.60 70.91,195.60 71.45,195.60 72.00,195.59 72.54,195.59 73.08,195.59 73.63,195.58 74.17,195.57 74.72,195.57 75.26,195.56 75.80,195.55 76.35,195.54 76.89,195.53 77.43,195.52 77.98,195.50 78.55,195.49 79.13,195.47 79.71,195.45 80.29,195.43 80.87,195.40 81.45,195.37 82.03,195.34 82.61,195.30 83.19,195.26 83.77,195.22 84.35,195.17 84.93,195.11 85.51,195.04 86.09,194.97 86.67,194.89 87.25,194.80 87.83,194.70 88.41,194.58 88.99,194.45 89.57,194.31 90.14,194.15 90.72,193.98 91.30,193.78 91.88,193.56 92.46,193.32 93.04,193.06 93.62,192.76 94.20,192.44 94.78,192.09 95.36,191.70 95.94,191.28 96.52,190.82 97.10,190.32 97.68,189.79 98.26,189.21 98.84,188.60 99.42,187.95 100.00,187.26 100.58,186.54 101.16,185.79 101.73,185.01 102.31,184.21 102.89,183.38 103.47,182.55 104.05,181.71 104.63,180.86 105.21,180.02 105.79,179.19 106.37,178.38 106.95,177.59 107.53,176.82 108.11,176.09 108.69,175.38 109.27,174.71 109.85,174.08 110.43,173.49 111.01,172.94 111.59,172.42 112.17,171.95 112.75,171.51 113.32,171.10 113.90,170.73 114.48,170.40 115.06,170.09 115.64,169.81 116.22,169.56 116.80,169.33 117.38,169.12 117.96,168.94 118.54,168.77" fill="none" stroke="#1f8a1f" stroke-width="1.0"/>
<polygon points="76.10,197.03 79.90,197.03 78.00,193.73" fill="#1f8a1f"/>
<polygon points="87.64,197.03 91.44,197.03 89.54,193.73" fill="#1f8a1f"/>
<line x1="98.27" y1="196.86" x2="98.27" y2="182.12" stroke="#1f8a1f" stroke-width="1.0" />
<line x1="96.67" y1="182.12" x2="99.87" y2="182.12" stroke="#1f8a1f" stroke-width="1.0" />
<line x1="96.67" y1="196.86" x2="99.87" y2="196.86" stroke="#1f8a1f" stroke-width="1.0" />
<polygon points="96.37,190.89 100.17,190.89 98.27,187.59" fill="#1f8a1f"/>
<line x1="107.00" y1="179.66" x2="107.00" y2="175.98" stroke="#1f8a1f" stroke-width="1.0" />
<line x1="105.40" y1="175.98" x2="108.60" y2="175.98" stroke="#1f8a1f" stroke-width="1.0" />
<line x1="105.40" y1="179.66" x2="108.60" y2="179.66" stroke="#1f8a1f" stroke-width="1.0" />
<polygon points="105.10,179.22 108.90,179.22 107.00,175.92" fill="#1f8a1f"/>
<line x1="118.54" y1="171.68" x2="118.54" y2="165.54" stroke="#1f8a1f" stroke-width="1.0" />
<line x1="116.94" y1="165.54" x2="120.14" y2="165.54" stroke="#1f8a1f" stroke-width="1.0" />
<line x1="116.94" y1="171.68" x2="120.14" y2="171.68" stroke="#1f8a1f" stroke-width="1.0" />
<polygon points="116.64,170.01 120.44,170.01 118.54,166.71" fill="#1f8a1f"/>
<polyline points="50.80,194.36 51.34,194.35 51.89,194.35 52.43,194.35 52.97,194.34 53.52,194.34 54.06,194.33 54.60,194.32 55.15,194.32 55.69,194.31 56.24,194.30 56.78,194.29 57.32,194.28 57.87,194.27 58.41,194.26 58.95,194.24 59.50,194.23 60.04,194.22 60.58,194.20 61.13,194.18 61.67,194.16 62.21,194.14 62.76,194.11 63.30,194.09 63.84,194.06 64.39,194.03 64.93,194.00 65.48,193.96 66.02,193.92 66.56,193.88 67.11,193.83 67.65,193.78 68.19,193.72 68.74,193.66 69.28,193.59 69.82,193.52 70.37,193.44 70.91,193.36 71.45,193.26 72.00,193.16 72.54,193.05 73.08,192.93 73.63,192.80 74.17,192.66 74.72,192.51 75.26,192.35 75.80,192.17 76.35,191.98 76.89,191.77 77.43,191.54 77.98,191.30 78.55,191.04 79.13,190.75 79.71,190.45 80.29,190.12 80.87,189.77 81.45,189.39 82.03,188.99 82.61,188.56 83.19,188.10 83.77,187.61 84.35,187.08 84.93,186.53 85.51,185.94 86.09,185.32 86.67,184.67 87.25,183.98 87.83,183.26 88.41,182.50 88.99,181.72 89.57,180.90 90.14,180.05 90.72,179.17 91.30,178.27 91.88,177.34 92.46,176.39 93.04,175.42 93.62,174.44 94.20,173.45 94.78,172.44 95.36,171.44 95.94,170.43 96.52,169.43 97.10,168.44 97.68,167.45 98.26,166.48 98.84,165.53 99.42,164.60 100.00,163.69 100.58,162.81 101.16,161.96 101.73,161.14 102.31,160.34 102.89,159.59 103.47,158.86 104.05,158.17 104.63,157.51 105.21,156.88 105.79,156.29 106.37,155.73 106.95,155.21 107.53,154.71 108.11,154.25 108.69,153.81 109.27,153.41 109.85,153.03 110.43,152.67 111.01,152.34 111.59,152.03 112.17,151.75 112.75,151.48 113.32,151.24 113.90,151.01 114.48,150.80 115.06,150.60 115.64,150.42 116.22,150.26 116.80,150.10 117.38,149.96 117.96,149.83 118.54,149.71" fill="none" stroke="#e82020" stroke-width="1.0"/>
<polygon points="76.10,191.77 79.90,191.77 78.00,195.07" fill="#e82020"/>
<line x1="89.54" y1="186.42" x2="89.54" y2="182.73" stroke="#e82020" stroke-width="1.0" />
<line x1="87.94" y1="182.73" x2="91.14" y2="182.73" stroke="#e82020" stroke-width="1.0" />
<line x1="87.94" y1="186.42" x2="91.14" y2="186.42" stroke="#e82020" stroke-width="1.0" />
<polygon points="87.64,183.18 91.44,183.18 89.54,186.48" fill="#e82020"/>
<line x1="98.27" y1="168.61" x2="98.27" y2="163.70" stroke="#e82020" stroke-width="1.0" />
<line x1="96.67" y1="163.70" x2="99.87" y2="163.70" stroke="#e82020" stroke-width="1.0" />
<line x1="96.67" y1="168.61" x2="99.87" y2="168.61" stroke="#e82020" stroke-width="1.0" />
<polygon points="96.37,164.76 100.17,164.76 98.27,168.06" fill="#e82020"/>
<polygon points="105.10,154.93 108.90,154.93 107.00,158.23" fill="#e82020"/>
<line x1="118.54" y1="152.03" x2="118.54" y2="148.35" stroke="#e82020" stroke-width="1.0" />
<line x1="116.94" y1="148.35" x2="120.14" y2="148.35" stroke="#e82020" stroke-width="1.0" />
<line x1="116.94" y1="152.03" x2="120.14" y2="152.03" stroke="#e82020" stroke-width="1.0" />
<polygon points="116.64,148.79 120.44,148.79 118.54,152.09" fill="#e82020"/>
<text x="72.00" y="125.90" font-size="9.0" fill="#111111" text-anchor="middle" font-weight="bold" stroke="#111111" stroke-width="0.3" >OCI-AML3</text>
<line x1="177.70" y1="132.60" x2="177.70" y2="199.30" stroke="#111111" stroke-width="1.1" />
<line x1="175.40" y1="194.10" x2="177.70" y2="194.10" stroke="#111111" stroke-width="1.0" />
<text x="175.90" y="196.37" font-size="6.6" fill="#111111" text-anchor="end" font-weight="bold" stroke="#111111" stroke-width="0.3" >0</text>
<line x1="175.40" y1="181.90" x2="177.70" y2="181.90" stroke="#111111" stroke-width="1.0" />
<text x="175.90" y="184.17" font-size="6.6" fill="#111111" text-anchor="end" font-weight="bold" stroke="#111111" stroke-width="0.3" >20</text>
<line x1="175.40" y1="169.70" x2="177.70" y2="169.70" stroke="#111111" stroke-width="1.0" />
<text x="175.90" y="171.97" font-size="6.6" fill="#111111" text-anchor="end" font-weight="bold" stroke="#111111" stroke-width="0.3" >40</text>
<line x1="175.40" y1="157.50" x2="177.70" y2="157.50" stroke="#111111" stroke-width="1.0" />
<text x="175.90" y="159.77" font-size="6.6" fill="#111111" text-anchor="end" font-weight="bold" stroke="#111111" stroke-width="0.3" >60</text>
<line x1="175.40" y1="145.30" x2="177.70" y2="145.30" stroke="#111111" stroke-width="1.0" />
<text x="175.90" y="147.57" font-size="6.6" fill="#111111" text-anchor="end" font-weight="bold" stroke="#111111" stroke-width="0.3" >80</text>
<line x1="175.40" y1="133.10" x2="177.70" y2="133.10" stroke="#111111" stroke-width="1.0" />
<text x="175.90" y="135.37" font-size="6.6" fill="#111111" text-anchor="end" font-weight="bold" stroke="#111111" stroke-width="0.3" >100</text>
<line x1="177.70" y1="194.10" x2="187.50" y2="194.10" stroke="#111111" stroke-width="1.1" />
<line x1="182.50" y1="194.10" x2="182.50" y2="196.90" stroke="#111111" stroke-width="1.0" />
<line x1="187.10" y1="193.10" x2="187.10" y2="195.50" stroke="#444" stroke-width="0.9" />
<rect x="182.80" y="196.00" width="4.70" height="1.60" fill="#8080a8" stroke="none" stroke-width="0"/>
<text x="182.50" y="204.16" font-size="6.0" fill="#111111" text-anchor="middle" font-weight="bold" stroke="#111111" stroke-width="0.3" >0</text>
<line x1="192.90" y1="194.10" x2="279.00" y2="194.10" stroke="#111111" stroke-width="1.1" />
<line x1="193.60" y1="194.10" x2="193.60" y2="196.70" stroke="#111111" stroke-width="0.7" />
<line x1="201.97" y1="194.10" x2="201.97" y2="195.50" stroke="#111111" stroke-width="0.7" />
<line x1="206.86" y1="194.10" x2="206.86" y2="195.50" stroke="#111111" stroke-width="0.7" />
<line x1="210.34" y1="194.10" x2="210.34" y2="195.50" stroke="#111111" stroke-width="0.7" />
<line x1="213.03" y1="194.10" x2="213.03" y2="195.50" stroke="#111111" stroke-width="0.7" />
<line x1="215.23" y1="194.10" x2="215.23" y2="195.50" stroke="#111111" stroke-width="0.7" />
<line x1="217.09" y1="194.10" x2="217.09" y2="195.50" stroke="#111111" stroke-width="0.7" />
<line x1="218.71" y1="194.10" x2="218.71" y2="195.50" stroke="#111111" stroke-width="0.7" />
<line x1="220.13" y1="194.10" x2="220.13" y2="195.50" stroke="#111111" stroke-width="0.7" />
<line x1="221.40" y1="194.10" x2="221.40" y2="196.70" stroke="#111111" stroke-width="0.7" />
<line x1="230.01" y1="194.10" x2="230.01" y2="195.50" stroke="#111111" stroke-width="0.7" />
<line x1="235.05" y1="194.10" x2="235.05" y2="195.50" stroke="#111111" stroke-width="0.7" />
<line x1="238.62" y1="194.10" x2="238.62" y2="195.50" stroke="#111111" stroke-width="0.7" />
<line x1="241.39" y1="194.10" x2="241.39" y2="195.50" stroke="#111111" stroke-width="0.7" />
<line x1="243.66" y1="194.10" x2="243.66" y2="195.50" stroke="#111111" stroke-width="0.7" />
<line x1="245.57" y1="194.10" x2="245.57" y2="195.50" stroke="#111111" stroke-width="0.7" />
<line x1="247.23" y1="194.10" x2="247.23" y2="195.50" stroke="#111111" stroke-width="0.7" />
<line x1="248.69" y1="194.10" x2="248.69" y2="195.50" stroke="#111111" stroke-width="0.7" />
<line x1="250.00" y1="194.10" x2="250.00" y2="196.70" stroke="#111111" stroke-width="0.7" />
<line x1="258.61" y1="194.10" x2="258.61" y2="195.50" stroke="#111111" stroke-width="0.7" />
<line x1="263.65" y1="194.10" x2="263.65" y2="195.50" stroke="#111111" stroke-width="0.7" />
<line x1="267.22" y1="194.10" x2="267.22" y2="195.50" stroke="#111111" stroke-width="0.7" />
<line x1="269.99" y1="194.10" x2="269.99" y2="195.50" stroke="#111111" stroke-width="0.7" />
<line x1="272.26" y1="194.10" x2="272.26" y2="195.50" stroke="#111111" stroke-width="0.7" />
<line x1="274.17" y1="194.10" x2="274.17" y2="195.50" stroke="#111111" stroke-width="0.7" />
<line x1="275.83" y1="194.10" x2="275.83" y2="195.50" stroke="#111111" stroke-width="0.7" />
<line x1="277.29" y1="194.10" x2="277.29" y2="195.50" stroke="#111111" stroke-width="0.7" />
<line x1="279.00" y1="194.10" x2="279.00" y2="196.70" stroke="#111111" stroke-width="0.7" />
<text x="194.20" y="204.80" font-size="6.1" fill="#111111" text-anchor="middle" font-weight="bold" stroke="#111111" stroke-width="0.3" >1</text>
<text x="221.40" y="204.80" font-size="6.1" fill="#111111" text-anchor="middle" font-weight="bold" stroke="#111111" stroke-width="0.3" >10</text>
<text x="250.00" y="204.80" font-size="6.1" fill="#111111" text-anchor="middle" font-weight="bold" stroke="#111111" stroke-width="0.3" >100</text>
<text x="279.00" y="204.80" font-size="6.1" fill="#111111" text-anchor="middle" font-weight="bold" stroke="#111111" stroke-width="0.3" >1,000</text>
<text x="228.45" y="217.56" font-size="8.3" fill="#111111" text-anchor="middle" font-weight="bold" stroke="#111111" stroke-width="0.3" >AMG 330 (pg/mL)</text>
<text transform="translate(159.99,165.30) rotate(-90)" x="0" y="0" font-size="8.1" fill="#111111" text-anchor="middle" font-weight="bold" stroke="#111111" stroke-width="0.3">% Cytotoxicity</text>
<text x="182.50" y="142.64" font-size="6.5" fill="#111111" text-anchor="start" font-weight="bold" stroke="#111111" stroke-width="0.3" >E:T = 1:1</text>
<rect x="181.20" y="149.30" width="34.60" height="36.30" fill="white" stroke="#111" stroke-width="1.0"/>
<text x="183.10" y="156.50" font-size="6.4" fill="#111111" text-anchor="start" font-weight="bold" stroke="#111111" stroke-width="0.3" >EC50</text>
<line x1="183.20" y1="157.20" x2="198.40" y2="157.20" stroke="#111111" stroke-width="0.8" />
<text x="183.50" y="163.47" font-size="5.45" fill="#111111" text-anchor="start" font-weight="bold" stroke="#111111" stroke-width="0.3" >not reached</text>
<text x="183.50" y="169.97" font-size="5.45" fill="#2e2eba" text-anchor="start" font-weight="bold" stroke="#2e2eba" stroke-width="0.3" >87.1 pg/mL</text>
<text x="183.50" y="176.47" font-size="5.45" fill="#2e802e" text-anchor="start" font-weight="bold" stroke="#2e802e" stroke-width="0.3" >34.9 pg/mL</text>
<text x="183.50" y="182.97" font-size="5.45" fill="#cf2c2c" text-anchor="start" font-weight="bold" stroke="#cf2c2c" stroke-width="0.3" >20.3 pg/mL</text>
<polyline points="193.60,197.15 194.16,197.15 194.71,197.15 195.27,197.15 195.82,197.15 196.38,197.15 196.93,197.15 197.49,197.15 198.04,197.15 198.60,197.15 199.16,197.15 199.71,197.15 200.27,197.15 200.82,197.15 201.38,197.15 201.93,197.15 202.49,197.15 203.04,197.15 203.60,197.15 204.15,197.15 204.71,197.15 205.27,197.15 205.82,197.15 206.38,197.15 206.93,197.15 207.49,197.15 208.04,197.15 208.60,197.15 209.15,197.15 209.71,197.15 210.27,197.15 210.82,197.15 211.38,197.15 211.93,197.15 212.49,197.15 213.04,197.15 213.60,197.15 214.15,197.15 214.71,197.15 215.27,197.15 215.82,197.15 216.38,197.15 216.93,197.15 217.49,197.15 218.04,197.15 218.60,197.15 219.15,197.15 219.71,197.15 220.27,197.15 220.82,197.15 221.38,197.15 221.95,197.15 222.52,197.14 223.09,197.14 223.66,197.14 224.23,197.14 224.80,197.14 225.38,197.13 225.95,197.13 226.52,197.13 227.09,197.12 227.66,197.11 228.23,197.11 228.81,197.10 229.38,197.08 229.95,197.07 230.52,197.05 231.09,197.03 231.66,197.00 232.23,196.97 232.81,196.92 233.38,196.87 233.95,196.81 234.52,196.73 235.09,196.64 235.66,196.52 236.23,196.38 236.81,196.20 237.38,195.99 237.95,195.73 238.52,195.41 239.09,195.02 239.66,194.55 240.24,193.99 240.81,193.30 241.38,192.49 241.95,191.51 242.52,190.36 243.09,189.00 243.66,187.42 244.24,185.60 244.81,183.53 245.38,181.21 245.95,178.65 246.52,175.86 247.09,172.89 247.66,169.79 248.24,166.61 248.81,163.43 249.38,160.31 249.95,157.32 250.52,154.50 251.09,151.89 251.67,149.53 252.24,147.42 252.81,145.56 253.38,143.94 253.95,142.55 254.52,141.36 255.09,140.36 255.67,139.51 256.24,138.81 256.81,138.23 257.38,137.74 257.95,137.34 258.52,137.01 259.10,136.74 259.67,136.52 260.24,136.34 260.81,136.19 261.38,136.07" fill="none" stroke="#1c1ce0" stroke-width="1.0"/>
<rect x="219.90" y="195.65" width="3.0" height="3.0" fill="#1c1ce0"/>
<line x1="232.78" y1="198.98" x2="232.78" y2="195.32" stroke="#1c1ce0" stroke-width="1.0" />
<line x1="231.18" y1="195.32" x2="234.38" y2="195.32" stroke="#1c1ce0" stroke-width="1.0" />
<line x1="231.18" y1="198.98" x2="234.38" y2="198.98" stroke="#1c1ce0" stroke-width="1.0" />
<rect x="231.28" y="195.65" width="3.0" height="3.0" fill="#1c1ce0"/>
<line x1="241.39" y1="194.71" x2="241.39" y2="189.83" stroke="#1c1ce0" stroke-width="1.0" />
<line x1="239.79" y1="189.83" x2="242.99" y2="189.83" stroke="#1c1ce0" stroke-width="1.0" />
<line x1="239.79" y1="194.71" x2="242.99" y2="194.71" stroke="#1c1ce0" stroke-width="1.0" />
<rect x="239.89" y="190.77" width="3.0" height="3.0" fill="#1c1ce0"/>
<rect x="248.50" y="157.22" width="3.0" height="3.0" fill="#1c1ce0"/>
<rect x="259.88" y="137.09" width="3.0" height="3.0" fill="#1c1ce0"/>
<polyline points="193.60,194.08 194.16,194.08 194.71,194.08 195.27,194.08 195.82,194.08 196.38,194.07 196.93,194.07 197.49,194.07 198.04,194.06 198.60,194.06 199.16,194.05 199.71,194.05 200.27,194.04 200.82,194.04 201.38,194.03 201.93,194.02 202.49,194.01 203.04,194.00 203.60,193.99 204.15,193.98 204.71,193.97 205.27,193.95 205.82,193.94 206.38,193.92 206.93,193.90 207.49,193.88 208.04,193.85 208.60,193.82 209.15,193.79 209.71,193.76 210.27,193.72 210.82,193.68 211.38,193.63 211.93,193.58 212.49,193.53 213.04,193.46 213.60,193.39 214.15,193.31 214.71,193.23 215.27,193.13 215.82,193.03 216.38,192.91 216.93,192.78 217.49,192.64 218.04,192.48 218.60,192.30 219.15,192.11 219.71,191.90 220.27,191.66 220.82,191.40 221.38,191.12 221.95,190.80 222.52,190.46 223.09,190.08 223.66,189.67 224.23,189.21 224.80,188.72 225.38,188.18 225.95,187.60 226.52,186.97 227.09,186.28 227.66,185.54 228.23,184.75 228.81,183.89 229.38,182.98 229.95,182.00 230.52,180.97 231.09,179.88 231.66,178.72 232.23,177.51 232.81,176.25 233.38,174.94 233.95,173.58 234.52,172.19 235.09,170.76 235.66,169.30 236.23,167.83 236.81,166.35 237.38,164.86 237.95,163.39 238.52,161.92 239.09,160.48 239.66,159.07 240.24,157.70 240.81,156.37 241.38,155.08 241.95,153.85 242.52,152.68 243.09,151.56 243.66,150.50 244.24,149.50 244.81,148.56 245.38,147.68 245.95,146.86 246.52,146.10 247.09,145.39 247.66,144.74 248.24,144.13 248.81,143.58 249.38,143.06 249.95,142.60 250.52,142.17 251.09,141.78 251.67,141.42 252.24,141.09 252.81,140.79 253.38,140.52 253.95,140.28 254.52,140.06 255.09,139.86 255.67,139.67 256.24,139.51 256.81,139.36 257.38,139.22 257.95,139.10 258.52,138.99 259.10,138.89 259.67,138.80 260.24,138.72 260.81,138.65 261.38,138.58" fill="none" stroke="#1f8a1f" stroke-width="1.0"/>
<polygon points="219.50,195.50 223.30,195.50 221.40,192.20" fill="#1f8a1f"/>
<line x1="232.78" y1="181.29" x2="232.78" y2="173.97" stroke="#1f8a1f" stroke-width="1.0" />
<line x1="231.18" y1="173.97" x2="234.38" y2="173.97" stroke="#1f8a1f" stroke-width="1.0" />
<line x1="231.18" y1="181.29" x2="234.38" y2="181.29" stroke="#1f8a1f" stroke-width="1.0" />
<polygon points="230.88,179.03 234.68,179.03 232.78,175.73" fill="#1f8a1f"/>
<line x1="241.39" y1="160.55" x2="241.39" y2="156.89" stroke="#1f8a1f" stroke-width="1.0" />
<line x1="239.79" y1="156.89" x2="242.99" y2="156.89" stroke="#1f8a1f" stroke-width="1.0" />
<line x1="239.79" y1="160.55" x2="242.99" y2="160.55" stroke="#1f8a1f" stroke-width="1.0" />
<polygon points="239.49,160.12 243.29,160.12 241.39,156.82" fill="#1f8a1f"/>
<polygon points="248.10,147.92 251.90,147.92 250.00,144.62" fill="#1f8a1f"/>
<polygon points="259.48,141.82 263.28,141.82 261.38,138.52" fill="#1f8a1f"/>
<polyline points="193.60,194.10 194.16,194.10 194.71,194.10 195.27,194.10 195.82,194.10 196.38,194.10 196.93,194.10 197.49,194.10 198.04,194.10 198.60,194.10 199.16,194.10 199.71,194.10 200.27,194.10 200.82,194.10 201.38,194.10 201.93,194.09 202.49,194.09 203.04,194.09 203.60,194.09 204.15,194.09 204.71,194.09 205.27,194.08 205.82,194.08 206.38,194.08 206.93,194.07 207.49,194.07 208.04,194.06 208.60,194.05 209.15,194.04 209.71,194.03 210.27,194.01 210.82,194.00 211.38,193.97 211.93,193.95 212.49,193.92 213.04,193.88 213.60,193.84 214.15,193.79 214.71,193.72 215.27,193.65 215.82,193.56 216.38,193.45 216.93,193.32 217.49,193.16 218.04,192.98 218.60,192.75 219.15,192.49 219.71,192.17 220.27,191.80 220.82,191.36 221.38,190.83 221.95,190.22 222.52,189.49 223.09,188.65 223.66,187.67 224.23,186.53 224.80,185.23 225.38,183.75 225.95,182.09 226.52,180.23 227.09,178.18 227.66,175.95 228.23,173.56 228.81,171.03 229.38,168.39 229.95,165.69 230.52,162.97 231.09,160.27 231.66,157.65 232.23,155.13 232.81,152.76 233.38,150.55 233.95,148.53 234.52,146.70 235.09,145.06 235.66,143.61 236.23,142.33 236.81,141.22 237.38,140.26 237.95,139.43 238.52,138.72 239.09,138.12 239.66,137.61 240.24,137.17 240.81,136.81 241.38,136.50 241.95,136.24 242.52,136.03 243.09,135.84 243.66,135.69 244.24,135.57 244.81,135.46 245.38,135.37 245.95,135.30 246.52,135.24 247.09,135.19 247.66,135.14 248.24,135.11 248.81,135.08 249.38,135.05 249.95,135.03 250.52,135.01 251.09,135.00 251.67,134.99 252.24,134.98 252.81,134.97 253.38,134.96 253.95,134.96 254.52,134.95 255.09,134.95 255.67,134.95 256.24,134.94 256.81,134.94 257.38,134.94 257.95,134.94 258.52,134.94 259.10,134.94 259.67,134.93 260.24,134.93 260.81,134.93 261.38,134.93" fill="none" stroke="#e82020" stroke-width="1.0"/>
<polygon points="219.50,192.70 223.30,192.70 221.40,196.00" fill="#e82020"/>
<line x1="232.78" y1="156.28" x2="232.78" y2="150.18" stroke="#e82020" stroke-width="1.0" />
<line x1="231.18" y1="150.18" x2="234.38" y2="150.18" stroke="#e82020" stroke-width="1.0" />
<line x1="231.18" y1="156.28" x2="234.38" y2="156.28" stroke="#e82020" stroke-width="1.0" />
<polygon points="230.88,151.83 234.68,151.83 232.78,155.13" fill="#e82020"/>
<polygon points="239.49,137.19 243.29,137.19 241.39,140.49" fill="#e82020"/>
<polygon points="248.10,134.14 251.90,134.14 250.00,137.44" fill="#e82020"/>
<polygon points="259.48,133.53 263.28,133.53 261.38,136.83" fill="#e82020"/>
<polyline points="193.60,197.15 194.16,197.15 194.71,197.15 195.27,197.15 195.82,197.15 196.38,197.15 196.93,197.15 197.49,197.15 198.04,197.15 198.60,197.15 199.16,197.15 199.71,197.15 200.27,197.15 200.82,197.15 201.38,197.15 201.93,197.15 202.49,197.15 203.04,197.15 203.60,197.15 204.15,197.15 204.71,197.15 205.27,197.15 205.82,197.15 206.38,197.15 206.93,197.15 207.49,197.15 208.04,197.15 208.60,197.15 209.15,197.15 209.71,197.15 210.27,197.15 210.82,197.15 211.38,197.15 211.93,197.15 212.49,197.15 213.04,197.15 213.60,197.15 214.15,197.15 214.71,197.15 215.27,197.15 215.82,197.15 216.38,197.15 216.93,197.15 217.49,197.15 218.04,197.15 218.60,197.15 219.15,197.15 219.71,197.15 220.27,197.15 220.82,197.15 221.38,197.15 221.95,197.15 222.52,197.15 223.09,197.15 223.66,197.15 224.23,197.15 224.80,197.15 225.38,197.15 225.95,197.15 226.52,197.15 227.09,197.15 227.66,197.15 228.23,197.15 228.81,197.15 229.38,197.15 229.95,197.15 230.52,197.15 231.09,197.15 231.66,197.15 232.23,197.15 232.81,197.15 233.38,197.15 233.95,197.15 234.52,197.15 235.09,197.15 235.66,197.15 236.23,197.15 236.81,197.15 237.38,197.15 237.95,197.15 238.52,197.15 239.09,197.15 239.66,197.15 240.24,197.15 240.81,197.15 241.38,197.15 241.95,197.15 242.52,197.15 243.09,197.15 243.66,197.15 244.24,197.15 244.81,197.15 245.38,197.14 245.95,197.13 246.52,197.12 247.09,197.10 247.66,197.06 248.24,196.98 248.81,196.85 249.38,196.61 249.95,196.18 250.52,195.44 251.09,194.20 251.67,192.23 252.24,189.39 252.81,185.79 253.38,181.90 253.95,178.36 254.52,175.61 255.09,173.72 255.67,172.54 256.24,171.84 256.81,171.43 257.38,171.20 257.95,171.08 258.52,171.01 259.10,170.97 259.67,170.95 260.24,170.93 260.81,170.93 261.38,170.92" fill="none" stroke="#222" stroke-width="1.0"/>
<circle cx="182.50" cy="194.10" r="1.6" fill="#222"/>
<circle cx="221.40" cy="197.15" r="1.6" fill="#222"/>
<circle cx="232.78" cy="197.15" r="1.6" fill="#222"/>
<circle cx="241.39" cy="197.15" r="1.6" fill="#222"/>
<circle cx="250.00" cy="194.71" r="1.6" fill="#222"/>
<line x1="261.38" y1="173.36" x2="261.38" y2="168.48" stroke="#222" stroke-width="1.0" />
<line x1="259.78" y1="168.48" x2="262.98" y2="168.48" stroke="#222" stroke-width="1.0" />
<line x1="259.78" y1="173.36" x2="262.98" y2="173.36" stroke="#222" stroke-width="1.0" />
<circle cx="261.38" cy="170.92" r="1.6" fill="#222"/>
<line x1="319.30" y1="131.80" x2="319.30" y2="199.70" stroke="#111111" stroke-width="1.1" />
<line x1="317.00" y1="194.50" x2="319.30" y2="194.50" stroke="#111111" stroke-width="1.0" />
<text x="317.50" y="196.77" font-size="6.6" fill="#111111" text-anchor="end" font-weight="bold" stroke="#111111" stroke-width="0.3" >0</text>
<line x1="317.00" y1="182.06" x2="319.30" y2="182.06" stroke="#111111" stroke-width="1.0" />
<text x="317.50" y="184.33" font-size="6.6" fill="#111111" text-anchor="end" font-weight="bold" stroke="#111111" stroke-width="0.3" >20</text>
<line x1="317.00" y1="169.62" x2="319.30" y2="169.62" stroke="#111111" stroke-width="1.0" />
<text x="317.50" y="171.89" font-size="6.6" fill="#111111" text-anchor="end" font-weight="bold" stroke="#111111" stroke-width="0.3" >40</text>
<line x1="317.00" y1="157.18" x2="319.30" y2="157.18" stroke="#111111" stroke-width="1.0" />
<text x="317.50" y="159.45" font-size="6.6" fill="#111111" text-anchor="end" font-weight="bold" stroke="#111111" stroke-width="0.3" >60</text>
<line x1="317.00" y1="144.74" x2="319.30" y2="144.74" stroke="#111111" stroke-width="1.0" />
<text x="317.50" y="147.01" font-size="6.6" fill="#111111" text-anchor="end" font-weight="bold" stroke="#111111" stroke-width="0.3" >80</text>
<line x1="317.00" y1="132.30" x2="319.30" y2="132.30" stroke="#111111" stroke-width="1.0" />
<text x="317.50" y="134.57" font-size="6.6" fill="#111111" text-anchor="end" font-weight="bold" stroke="#111111" stroke-width="0.3" >100</text>
<line x1="319.30" y1="194.50" x2="329.10" y2="194.50" stroke="#111111" stroke-width="1.1" />
<line x1="324.10" y1="194.50" x2="324.10" y2="197.30" stroke="#111111" stroke-width="1.0" />
<line x1="328.70" y1="193.50" x2="328.70" y2="195.90" stroke="#444" stroke-width="0.9" />
<rect x="324.40" y="196.40" width="4.70" height="1.60" fill="#8080a8" stroke="none" stroke-width="0"/>
<text x="324.10" y="204.56" font-size="6.0" fill="#111111" text-anchor="middle" font-weight="bold" stroke="#111111" stroke-width="0.3" >0</text>
<line x1="334.50" y1="194.50" x2="421.40" y2="194.50" stroke="#111111" stroke-width="1.1" />
<line x1="335.60" y1="194.50" x2="335.60" y2="197.10" stroke="#111111" stroke-width="0.7" />
<line x1="343.82" y1="194.50" x2="343.82" y2="195.90" stroke="#111111" stroke-width="0.7" />
<line x1="348.63" y1="194.50" x2="348.63" y2="195.90" stroke="#111111" stroke-width="0.7" />
<line x1="352.04" y1="194.50" x2="352.04" y2="195.90" stroke="#111111" stroke-width="0.7" />
<line x1="354.68" y1="194.50" x2="354.68" y2="195.90" stroke="#111111" stroke-width="0.7" />
<line x1="356.84" y1="194.50" x2="356.84" y2="195.90" stroke="#111111" stroke-width="0.7" />
<line x1="358.67" y1="194.50" x2="358.67" y2="195.90" stroke="#111111" stroke-width="0.7" />
<line x1="360.25" y1="194.50" x2="360.25" y2="195.90" stroke="#111111" stroke-width="0.7" />
<line x1="361.65" y1="194.50" x2="361.65" y2="195.90" stroke="#111111" stroke-width="0.7" />
<line x1="362.90" y1="194.50" x2="362.90" y2="197.10" stroke="#111111" stroke-width="0.7" />
<line x1="371.78" y1="194.50" x2="371.78" y2="195.90" stroke="#111111" stroke-width="0.7" />
<line x1="376.98" y1="194.50" x2="376.98" y2="195.90" stroke="#111111" stroke-width="0.7" />
<line x1="380.66" y1="194.50" x2="380.66" y2="195.90" stroke="#111111" stroke-width="0.7" />
<line x1="383.52" y1="194.50" x2="383.52" y2="195.90" stroke="#111111" stroke-width="0.7" />
<line x1="385.86" y1="194.50" x2="385.86" y2="195.90" stroke="#111111" stroke-width="0.7" />
<line x1="387.83" y1="194.50" x2="387.83" y2="195.90" stroke="#111111" stroke-width="0.7" />
<line x1="389.54" y1="194.50" x2="389.54" y2="195.90" stroke="#111111" stroke-width="0.7" />
<line x1="391.05" y1="194.50" x2="391.05" y2="195.90" stroke="#111111" stroke-width="0.7" />
<line x1="392.40" y1="194.50" x2="392.40" y2="197.10" stroke="#111111" stroke-width="0.7" />
<line x1="401.28" y1="194.50" x2="401.28" y2="195.90" stroke="#111111" stroke-width="0.7" />
<line x1="406.48" y1="194.50" x2="406.48" y2="195.90" stroke="#111111" stroke-width="0.7" />
<line x1="410.16" y1="194.50" x2="410.16" y2="195.90" stroke="#111111" stroke-width="0.7" />
<line x1="413.02" y1="194.50" x2="413.02" y2="195.90" stroke="#111111" stroke-width="0.7" />
<line x1="415.36" y1="194.50" x2="415.36" y2="195.90" stroke="#111111" stroke-width="0.7" />
<line x1="417.33" y1="194.50" x2="417.33" y2="195.90" stroke="#111111" stroke-width="0.7" />
<line x1="419.04" y1="194.50" x2="419.04" y2="195.90" stroke="#111111" stroke-width="0.7" />
<line x1="420.55" y1="194.50" x2="420.55" y2="195.90" stroke="#111111" stroke-width="0.7" />
<line x1="421.40" y1="194.50" x2="421.40" y2="197.10" stroke="#111111" stroke-width="0.7" />
<text x="336.20" y="205.20" font-size="6.1" fill="#111111" text-anchor="middle" font-weight="bold" stroke="#111111" stroke-width="0.3" >1</text>
<text x="362.90" y="205.20" font-size="6.1" fill="#111111" text-anchor="middle" font-weight="bold" stroke="#111111" stroke-width="0.3" >10</text>
<text x="392.40" y="205.20" font-size="6.1" fill="#111111" text-anchor="middle" font-weight="bold" stroke="#111111" stroke-width="0.3" >100</text>
<text x="421.40" y="205.20" font-size="6.1" fill="#111111" text-anchor="middle" font-weight="bold" stroke="#111111" stroke-width="0.3" >1,000</text>
<text x="371.15" y="217.56" font-size="8.3" fill="#111111" text-anchor="middle" font-weight="bold" stroke="#111111" stroke-width="0.3" >AMG 330 (pg/mL)</text>
<text transform="translate(301.59,164.50) rotate(-90)" x="0" y="0" font-size="8.1" fill="#111111" text-anchor="middle" font-weight="bold" stroke="#111111" stroke-width="0.3">% Cytotoxicity</text>
<text x="324.10" y="141.74" font-size="6.5" fill="#111111" text-anchor="start" font-weight="bold" stroke="#111111" stroke-width="0.3" >E:T = 10:1</text>
<rect x="322.80" y="149.00" width="32.20" height="36.30" fill="white" stroke="#111" stroke-width="1.0"/>
<text x="324.70" y="156.20" font-size="6.4" fill="#111111" text-anchor="start" font-weight="bold" stroke="#111111" stroke-width="0.3" >EC50</text>
<line x1="324.80" y1="156.90" x2="340.00" y2="156.90" stroke="#111111" stroke-width="0.8" />
<text x="325.10" y="163.17" font-size="5.45" fill="#111111" text-anchor="start" font-weight="bold" stroke="#111111" stroke-width="0.3" >75.3 pg/mL</text>
<text x="325.10" y="169.67" font-size="5.45" fill="#2e2eba" text-anchor="start" font-weight="bold" stroke="#2e2eba" stroke-width="0.3" >43.3 pg/mL</text>
<text x="325.10" y="176.17" font-size="5.45" fill="#2e802e" text-anchor="start" font-weight="bold" stroke="#2e802e" stroke-width="0.3" >19.6 pg/mL</text>
<text x="325.10" y="182.67" font-size="5.45" fill="#cf2c2c" text-anchor="start" font-weight="bold" stroke="#cf2c2c" stroke-width="0.3" >12.1 pg/mL</text>
<polyline points="335.60,195.74 336.15,195.74 336.69,195.74 337.24,195.74 337.78,195.74 338.33,195.74 338.87,195.74 339.42,195.74 339.96,195.74 340.51,195.74 341.06,195.74 341.60,195.74 342.15,195.74 342.69,195.74 343.24,195.74 343.78,195.74 344.33,195.74 344.87,195.74 345.42,195.74 345.97,195.74 346.51,195.74 347.06,195.74 347.60,195.74 348.15,195.74 348.69,195.74 349.24,195.74 349.78,195.74 350.33,195.74 350.87,195.74 351.42,195.74 351.97,195.73 352.51,195.73 353.06,195.73 353.60,195.73 354.15,195.73 354.69,195.73 355.24,195.72 355.78,195.72 356.33,195.72 356.88,195.71 357.42,195.71 357.97,195.70 358.51,195.70 359.06,195.69 359.60,195.68 360.15,195.67 360.69,195.66 361.24,195.65 361.79,195.64 362.33,195.62 362.88,195.60 363.46,195.58 364.05,195.56 364.64,195.53 365.23,195.50 365.82,195.46 366.41,195.42 367.00,195.37 367.59,195.31 368.18,195.25 368.77,195.18 369.36,195.10 369.95,195.00 370.54,194.89 371.13,194.77 371.72,194.63 372.31,194.47 372.90,194.28 373.49,194.07 374.08,193.83 374.66,193.56 375.25,193.25 375.84,192.89 376.43,192.50 377.02,192.04 377.61,191.53 378.20,190.96 378.79,190.31 379.38,189.59 379.97,188.78 380.56,187.88 381.15,186.88 381.74,185.79 382.33,184.58 382.92,183.26 383.51,181.83 384.10,180.29 384.69,178.64 385.28,176.88 385.86,175.03 386.45,173.09 387.04,171.08 387.63,169.01 388.22,166.91 388.81,164.79 389.40,162.67 389.99,160.57 390.58,158.51 391.17,156.51 391.76,154.58 392.35,152.74 392.94,151.00 393.53,149.37 394.12,147.84 394.71,146.43 395.30,145.13 395.89,143.94 396.48,142.86 397.07,141.88 397.65,141.00 398.24,140.20 398.83,139.49 399.42,138.86 400.01,138.29 400.60,137.79 401.19,137.35 401.78,136.96 402.37,136.61 402.96,136.31 403.55,136.04 404.14,135.80" fill="none" stroke="#111111" stroke-width="1.0"/>
<circle cx="324.10" cy="194.50" r="1.6" fill="#111111"/>
<circle cx="362.90" cy="196.99" r="1.6" fill="#111111"/>
<circle cx="374.64" cy="196.99" r="1.6" fill="#111111"/>
<line x1="383.52" y1="185.79" x2="383.52" y2="178.33" stroke="#111111" stroke-width="1.0" />
<line x1="381.92" y1="178.33" x2="385.12" y2="178.33" stroke="#111111" stroke-width="1.0" />
<line x1="381.92" y1="185.79" x2="385.12" y2="185.79" stroke="#111111" stroke-width="1.0" />
<circle cx="383.52" cy="182.06" r="1.6" fill="#111111"/>
<circle cx="392.40" cy="155.94" r="1.6" fill="#111111"/>
<circle cx="404.14" cy="137.28" r="1.6" fill="#111111"/>
<polyline points="335.60,196.99 336.15,196.99 336.69,196.99 337.24,196.99 337.78,196.99 338.33,196.99 338.87,196.99 339.42,196.99 339.96,196.99 340.51,196.99 341.06,196.99 341.60,196.99 342.15,196.99 342.69,196.99 343.24,196.99 343.78,196.99 344.33,196.99 344.87,196.99 345.42,196.99 345.97,196.99 346.51,196.99 347.06,196.99 347.60,196.99 348.15,196.99 348.69,196.99 349.24,196.99 349.78,196.99 350.33,196.99 350.87,196.99 351.42,196.99 351.97,196.99 352.51,196.99 353.06,196.99 353.60,196.99 354.15,196.99 354.69,196.99 355.24,196.99 355.78,196.99 356.33,196.99 356.88,196.98 357.42,196.98 357.97,196.98 358.51,196.98 359.06,196.98 359.60,196.98 360.15,196.97 360.69,196.97 361.24,196.97 361.79,196.96 362.33,196.95 362.88,196.95 363.46,196.94 364.05,196.92 364.64,196.91 365.23,196.88 365.82,196.86 366.41,196.82 367.00,196.78 367.59,196.73 368.18,196.66 368.77,196.57 369.36,196.47 369.95,196.34 370.54,196.17 371.13,195.96 371.72,195.70 372.31,195.38 372.90,194.97 373.49,194.47 374.08,193.85 374.66,193.09 375.25,192.16 375.84,191.02 376.43,189.66 377.02,188.03 377.61,186.10 378.20,183.86 378.79,181.30 379.38,178.42 379.97,175.24 380.56,171.83 381.15,168.24 381.74,164.57 382.33,160.90 382.92,157.35 383.51,153.98 384.10,150.86 384.69,148.04 385.28,145.55 385.86,143.38 386.45,141.52 387.04,139.94 387.63,138.63 388.22,137.54 388.81,136.65 389.40,135.92 389.99,135.32 390.58,134.85 391.17,134.46 391.76,134.15 392.35,133.90 392.94,133.70 393.53,133.54 394.12,133.42 394.71,133.32 395.30,133.24 395.89,133.17 396.48,133.12 397.07,133.08 397.65,133.05 398.24,133.02 398.83,133.00 399.42,132.98 400.01,132.97 400.60,132.96 401.19,132.95 401.78,132.95 402.37,132.94 402.96,132.94 403.55,132.93 404.14,132.93" fill="none" stroke="#1c1ce0" stroke-width="1.0"/>
<rect x="361.40" y="195.49" width="3.0" height="3.0" fill="#1c1ce0"/>
<line x1="374.64" y1="193.26" x2="374.64" y2="188.28" stroke="#1c1ce0" stroke-width="1.0" />
<line x1="373.04" y1="188.28" x2="376.24" y2="188.28" stroke="#1c1ce0" stroke-width="1.0" />
<line x1="373.04" y1="193.26" x2="376.24" y2="193.26" stroke="#1c1ce0" stroke-width="1.0" />
<rect x="373.14" y="189.27" width="3.0" height="3.0" fill="#1c1ce0"/>
<line x1="383.52" y1="158.42" x2="383.52" y2="150.96" stroke="#1c1ce0" stroke-width="1.0" />
<line x1="381.92" y1="150.96" x2="385.12" y2="150.96" stroke="#1c1ce0" stroke-width="1.0" />
<line x1="381.92" y1="158.42" x2="385.12" y2="158.42" stroke="#1c1ce0" stroke-width="1.0" />
<rect x="382.02" y="153.19" width="3.0" height="3.0" fill="#1c1ce0"/>
<rect x="390.90" y="133.29" width="3.0" height="3.0" fill="#1c1ce0"/>
<rect x="402.64" y="132.67" width="3.0" height="3.0" fill="#1c1ce0"/>
<polyline points="335.60,194.45 336.15,194.45 336.69,194.44 337.24,194.43 337.78,194.43 338.33,194.42 338.87,194.41 339.42,194.40 339.96,194.38 340.51,194.37 341.06,194.35 341.60,194.34 342.15,194.32 342.69,194.30 343.24,194.27 343.78,194.25 344.33,194.22 344.87,194.19 345.42,194.15 345.97,194.11 346.51,194.06 347.06,194.01 347.60,193.96 348.15,193.89 348.69,193.82 349.24,193.75 349.78,193.66 350.33,193.56 350.87,193.46 351.42,193.34 351.97,193.20 352.51,193.05 353.06,192.89 353.60,192.71 354.15,192.51 354.69,192.28 355.24,192.03 355.78,191.76 356.33,191.45 356.88,191.12 357.42,190.75 357.97,190.34 358.51,189.89 359.06,189.40 359.60,188.86 360.15,188.26 360.69,187.62 361.24,186.92 361.79,186.15 362.33,185.32 362.88,184.43 363.46,183.47 364.05,182.43 364.64,181.33 365.23,180.15 365.82,178.90 366.41,177.59 367.00,176.21 367.59,174.76 368.18,173.26 368.77,171.71 369.36,170.11 369.95,168.48 370.54,166.82 371.13,165.15 371.72,163.46 372.31,161.79 372.90,160.12 373.49,158.48 374.08,156.87 374.66,155.30 375.25,153.78 375.84,152.32 376.43,150.91 377.02,149.57 377.61,148.30 378.20,147.10 378.79,145.98 379.38,144.92 379.97,143.93 380.56,143.01 381.15,142.16 381.74,141.38 382.33,140.66 382.92,139.99 383.51,139.38 384.10,138.82 384.69,138.32 385.28,137.85 385.86,137.43 386.45,137.05 387.04,136.70 387.63,136.39 388.22,136.10 388.81,135.84 389.40,135.61 389.99,135.40 390.58,135.21 391.17,135.04 391.76,134.89 392.35,134.75 392.94,134.63 393.53,134.52 394.12,134.42 394.71,134.33 395.30,134.25 395.89,134.17 396.48,134.11 397.07,134.05 397.65,134.00 398.24,133.95 398.83,133.91 399.42,133.87 400.01,133.84 400.60,133.81 401.19,133.78 401.78,133.75 402.37,133.73 402.96,133.71 403.55,133.69 404.14,133.68" fill="none" stroke="#1f8a1f" stroke-width="1.0"/>
<line x1="362.90" y1="185.79" x2="362.90" y2="180.82" stroke="#1f8a1f" stroke-width="1.0" />
<line x1="361.30" y1="180.82" x2="364.50" y2="180.82" stroke="#1f8a1f" stroke-width="1.0" />
<line x1="361.30" y1="185.79" x2="364.50" y2="185.79" stroke="#1f8a1f" stroke-width="1.0" />
<polygon points="361.00,184.70 364.80,184.70 362.90,181.40" fill="#1f8a1f"/>
<line x1="374.64" y1="162.16" x2="374.64" y2="152.20" stroke="#1f8a1f" stroke-width="1.0" />
<line x1="373.04" y1="152.20" x2="376.24" y2="152.20" stroke="#1f8a1f" stroke-width="1.0" />
<line x1="373.04" y1="162.16" x2="376.24" y2="162.16" stroke="#1f8a1f" stroke-width="1.0" />
<polygon points="372.74,158.58 376.54,158.58 374.64,155.28" fill="#1f8a1f"/>
<polygon points="381.62,142.41 385.42,142.41 383.52,139.11" fill="#1f8a1f"/>
<polygon points="390.50,136.19 394.30,136.19 392.40,132.89" fill="#1f8a1f"/>
<polygon points="402.24,135.57 406.04,135.57 404.14,132.27" fill="#1f8a1f"/>
<polyline points="335.60,194.41 336.15,194.40 336.69,194.38 337.24,194.37 337.78,194.35 338.33,194.33 338.87,194.31 339.42,194.29 339.96,194.26 340.51,194.23 341.06,194.19 341.60,194.15 342.15,194.11 342.69,194.06 343.24,194.01 343.78,193.94 344.33,193.87 344.87,193.80 345.42,193.71 345.97,193.61 346.51,193.50 347.06,193.37 347.60,193.23 348.15,193.07 348.69,192.90 349.24,192.70 349.78,192.48 350.33,192.23 350.87,191.95 351.42,191.64 351.97,191.30 352.51,190.92 353.06,190.49 353.60,190.02 354.15,189.50 354.69,188.92 355.24,188.28 355.78,187.58 356.33,186.82 356.88,185.98 357.42,185.06 357.97,184.07 358.51,182.99 359.06,181.83 359.60,180.59 360.15,179.26 360.69,177.86 361.24,176.37 361.79,174.81 362.33,173.18 362.88,171.50 363.46,169.76 364.05,167.98 364.64,166.18 365.23,164.36 365.82,162.54 366.41,160.73 367.00,158.94 367.59,157.19 368.18,155.48 368.77,153.83 369.36,152.24 369.95,150.73 370.54,149.29 371.13,147.94 371.72,146.66 372.31,145.47 372.90,144.37 373.49,143.34 374.08,142.40 374.66,141.53 375.25,140.74 375.84,140.01 376.43,139.35 377.02,138.75 377.61,138.21 378.20,137.72 378.79,137.28 379.38,136.88 379.97,136.52 380.56,136.20 381.15,135.91 381.74,135.66 382.33,135.42 382.92,135.22 383.51,135.03 384.10,134.87 384.69,134.72 385.28,134.59 385.86,134.48 386.45,134.37 387.04,134.28 387.63,134.20 388.22,134.13 388.81,134.06 389.40,134.00 389.99,133.95 390.58,133.91 391.17,133.86 391.76,133.83 392.35,133.80 392.94,133.77 393.53,133.74 394.12,133.72 394.71,133.70 395.30,133.68 395.89,133.67 396.48,133.65 397.07,133.64 397.65,133.63 398.24,133.62 398.83,133.61 399.42,133.60 400.01,133.60 400.60,133.59 401.19,133.59 401.78,133.58 402.37,133.58 402.96,133.57 403.55,133.57 404.14,133.57" fill="none" stroke="#e82020" stroke-width="1.0"/>
<line x1="362.90" y1="177.08" x2="362.90" y2="167.13" stroke="#e82020" stroke-width="1.0" />
<line x1="361.30" y1="167.13" x2="364.50" y2="167.13" stroke="#e82020" stroke-width="1.0" />
<line x1="361.30" y1="177.08" x2="364.50" y2="177.08" stroke="#e82020" stroke-width="1.0" />
<polygon points="361.00,170.71 364.80,170.71 362.90,174.01" fill="#e82020"/>
<polygon points="372.74,139.61 376.54,139.61 374.64,142.91" fill="#e82020"/>
<polygon points="381.62,132.77 385.42,132.77 383.52,136.07" fill="#e82020"/>
<polygon points="390.50,132.14 394.30,132.14 392.40,135.44" fill="#e82020"/>
<polygon points="402.24,132.14 406.04,132.14 404.14,135.44" fill="#e82020"/>
<line x1="183.70" y1="252.10" x2="183.70" y2="319.00" stroke="#111111" stroke-width="1.1" />
<line x1="181.40" y1="313.80" x2="183.70" y2="313.80" stroke="#111111" stroke-width="1.0" />
<text x="181.90" y="316.07" font-size="6.6" fill="#111111" text-anchor="end" font-weight="bold" stroke="#111111" stroke-width="0.3" >0</text>
<line x1="181.40" y1="301.56" x2="183.70" y2="301.56" stroke="#111111" stroke-width="1.0" />
<text x="181.90" y="303.83" font-size="6.6" fill="#111111" text-anchor="end" font-weight="bold" stroke="#111111" stroke-width="0.3" >20</text>
<line x1="181.40" y1="289.32" x2="183.70" y2="289.32" stroke="#111111" stroke-width="1.0" />
<text x="181.90" y="291.59" font-size="6.6" fill="#111111" text-anchor="end" font-weight="bold" stroke="#111111" stroke-width="0.3" >40</text>
<line x1="181.40" y1="277.08" x2="183.70" y2="277.08" stroke="#111111" stroke-width="1.0" />
<text x="181.90" y="279.35" font-size="6.6" fill="#111111" text-anchor="end" font-weight="bold" stroke="#111111" stroke-width="0.3" >60</text>
<line x1="181.40" y1="264.84" x2="183.70" y2="264.84" stroke="#111111" stroke-width="1.0" />
<text x="181.90" y="267.11" font-size="6.6" fill="#111111" text-anchor="end" font-weight="bold" stroke="#111111" stroke-width="0.3" >80</text>
<line x1="181.40" y1="252.60" x2="183.70" y2="252.60" stroke="#111111" stroke-width="1.0" />
<text x="181.90" y="254.87" font-size="6.6" fill="#111111" text-anchor="end" font-weight="bold" stroke="#111111" stroke-width="0.3" >100</text>
<line x1="183.70" y1="313.80" x2="193.50" y2="313.80" stroke="#111111" stroke-width="1.1" />
<line x1="188.50" y1="313.80" x2="188.50" y2="316.60" stroke="#111111" stroke-width="1.0" />
<line x1="193.10" y1="312.80" x2="193.10" y2="315.20" stroke="#444" stroke-width="0.9" />
<text x="188.50" y="323.86" font-size="6.0" fill="#111111" text-anchor="middle" font-weight="bold" stroke="#111111" stroke-width="0.3" >0</text>
<line x1="198.90" y1="313.80" x2="287.10" y2="313.80" stroke="#111111" stroke-width="1.1" />
<line x1="201.20" y1="313.80" x2="201.20" y2="316.40" stroke="#111111" stroke-width="0.7" />
<line x1="209.12" y1="313.80" x2="209.12" y2="315.20" stroke="#111111" stroke-width="0.7" />
<line x1="213.75" y1="313.80" x2="213.75" y2="315.20" stroke="#111111" stroke-width="0.7" />
<line x1="217.03" y1="313.80" x2="217.03" y2="315.20" stroke="#111111" stroke-width="0.7" />
<line x1="219.58" y1="313.80" x2="219.58" y2="315.20" stroke="#111111" stroke-width="0.7" />
<line x1="221.67" y1="313.80" x2="221.67" y2="315.20" stroke="#111111" stroke-width="0.7" />
<line x1="223.43" y1="313.80" x2="223.43" y2="315.20" stroke="#111111" stroke-width="0.7" />
<line x1="224.95" y1="313.80" x2="224.95" y2="315.20" stroke="#111111" stroke-width="0.7" />
<line x1="226.30" y1="313.80" x2="226.30" y2="315.20" stroke="#111111" stroke-width="0.7" />
<line x1="227.50" y1="313.80" x2="227.50" y2="316.40" stroke="#111111" stroke-width="0.7" />
<line x1="236.08" y1="313.80" x2="236.08" y2="315.20" stroke="#111111" stroke-width="0.7" />
<line x1="241.10" y1="313.80" x2="241.10" y2="315.20" stroke="#111111" stroke-width="0.7" />
<line x1="244.66" y1="313.80" x2="244.66" y2="315.20" stroke="#111111" stroke-width="0.7" />
<line x1="247.42" y1="313.80" x2="247.42" y2="315.20" stroke="#111111" stroke-width="0.7" />
<line x1="249.68" y1="313.80" x2="249.68" y2="315.20" stroke="#111111" stroke-width="0.7" />
<line x1="251.59" y1="313.80" x2="251.59" y2="315.20" stroke="#111111" stroke-width="0.7" />
<line x1="253.24" y1="313.80" x2="253.24" y2="315.20" stroke="#111111" stroke-width="0.7" />
<line x1="254.70" y1="313.80" x2="254.70" y2="315.20" stroke="#111111" stroke-width="0.7" />
<line x1="256.00" y1="313.80" x2="256.00" y2="316.40" stroke="#111111" stroke-width="0.7" />
<line x1="264.58" y1="313.80" x2="264.58" y2="315.20" stroke="#111111" stroke-width="0.7" />
<line x1="269.60" y1="313.80" x2="269.60" y2="315.20" stroke="#111111" stroke-width="0.7" />
<line x1="273.16" y1="313.80" x2="273.16" y2="315.20" stroke="#111111" stroke-width="0.7" />
<line x1="275.92" y1="313.80" x2="275.92" y2="315.20" stroke="#111111" stroke-width="0.7" />
<line x1="278.18" y1="313.80" x2="278.18" y2="315.20" stroke="#111111" stroke-width="0.7" />
<line x1="280.09" y1="313.80" x2="280.09" y2="315.20" stroke="#111111" stroke-width="0.7" />
<line x1="281.74" y1="313.80" x2="281.74" y2="315.20" stroke="#111111" stroke-width="0.7" />
<line x1="283.20" y1="313.80" x2="283.20" y2="315.20" stroke="#111111" stroke-width="0.7" />
<line x1="287.10" y1="313.80" x2="287.10" y2="316.40" stroke="#111111" stroke-width="0.7" />
<text x="201.80" y="324.50" font-size="6.1" fill="#111111" text-anchor="middle" font-weight="bold" stroke="#111111" stroke-width="0.3" >1</text>
<text x="227.50" y="324.50" font-size="6.1" fill="#111111" text-anchor="middle" font-weight="bold" stroke="#111111" stroke-width="0.3" >10</text>
<text x="256.00" y="324.50" font-size="6.1" fill="#111111" text-anchor="middle" font-weight="bold" stroke="#111111" stroke-width="0.3" >100</text>
<text x="286.10" y="324.50" font-size="6.1" fill="#111111" text-anchor="middle" font-weight="bold" stroke="#111111" stroke-width="0.3" >1,000</text>
<text x="234.85" y="336.16" font-size="8.3" fill="#111111" text-anchor="middle" font-weight="bold" stroke="#111111" stroke-width="0.3" >AMG 330 (pg/mL)</text>
<text transform="translate(165.99,284.80) rotate(-90)" x="0" y="0" font-size="8.1" fill="#111111" text-anchor="middle" font-weight="bold" stroke="#111111" stroke-width="0.3">% Cytotoxicity</text>
<text x="188.50" y="261.84" font-size="6.5" fill="#111111" text-anchor="start" font-weight="bold" stroke="#111111" stroke-width="0.3" >E:T = 0:1</text>
<rect x="187.20" y="268.90" width="34.60" height="29.80" fill="white" stroke="#111" stroke-width="1.0"/>
<text x="189.10" y="276.10" font-size="6.4" fill="#111111" text-anchor="start" font-weight="bold" stroke="#111111" stroke-width="0.3" >EC50</text>
<line x1="189.20" y1="276.80" x2="204.40" y2="276.80" stroke="#111111" stroke-width="0.8" />
<text x="189.50" y="283.07" font-size="5.45" fill="#111111" text-anchor="start" font-weight="bold" stroke="#111111" stroke-width="0.3" >not reached</text>
<text x="189.50" y="289.57" font-size="5.45" fill="#2e2eba" text-anchor="start" font-weight="bold" stroke="#2e2eba" stroke-width="0.3" >not reached</text>
<text x="189.50" y="296.07" font-size="5.45" fill="#cf2c2c" text-anchor="start" font-weight="bold" stroke="#cf2c2c" stroke-width="0.3" >not reached</text>
<polyline points="201.20,313.80 201.73,313.80 202.25,313.80 202.78,313.80 203.30,313.80 203.83,313.80 204.35,313.80 204.88,313.80 205.40,313.80 205.93,313.80 206.46,313.80 206.98,313.80 207.51,313.80 208.03,313.80 208.56,313.80 209.08,313.80 209.61,313.80 210.13,313.80 210.66,313.80 211.19,313.80 211.71,313.80 212.24,313.80 212.76,313.80 213.29,313.80 213.81,313.80 214.34,313.80 214.86,313.80 215.39,313.80 215.92,313.80 216.44,313.80 216.97,313.80 217.49,313.80 218.02,313.80 218.54,313.80 219.07,313.80 219.59,313.80 220.12,313.80 220.65,313.80 221.17,313.80 221.70,313.80 222.22,313.80 222.75,313.80 223.27,313.80 223.80,313.80 224.32,313.80 224.85,313.80 225.38,313.80 225.90,313.80 226.43,313.80 226.95,313.80 227.48,313.80 228.05,313.80 228.61,313.80 229.18,313.80 229.75,313.80 230.32,313.80 230.89,313.80 231.46,313.80 232.03,313.80 232.60,313.80 233.17,313.80 233.74,313.80 234.31,313.80 234.88,313.80 235.45,313.80 236.02,313.80 236.59,313.80 237.16,313.80 237.73,313.80 238.30,313.80 238.87,313.80 239.44,313.80 240.00,313.80 240.57,313.80 241.14,313.80 241.71,313.80 242.28,313.80 242.85,313.80 243.42,313.80 243.99,313.80 244.56,313.80 245.13,313.80 245.70,313.80 246.27,313.80 246.84,313.80 247.41,313.80 247.98,313.80 248.55,313.80 249.12,313.80 249.69,313.80 250.26,313.80 250.83,313.80 251.39,313.80 251.96,313.80 252.53,313.80 253.10,313.80 253.67,313.80 254.24,313.80 254.81,313.80 255.38,313.80 255.95,313.80 256.52,313.80 257.09,313.80 257.66,313.80 258.23,313.80 258.80,313.80 259.37,313.80 259.94,313.80 260.51,313.80 261.08,313.80 261.65,313.80 262.22,313.80 262.79,313.80 263.35,313.80 263.92,313.80 264.49,313.80 265.06,313.80 265.63,313.80 266.20,313.80 266.77,313.80 267.34,313.80" fill="none" stroke="#b04848" stroke-width="0.9"/>
<polyline points="201.20,313.80 201.73,313.80 202.25,313.80 202.78,313.80 203.30,313.80 203.83,313.80 204.35,313.80 204.88,313.80 205.40,313.80 205.93,313.80 206.46,313.80 206.98,313.80 207.51,313.80 208.03,313.80 208.56,313.80 209.08,313.80 209.61,313.80 210.13,313.80 210.66,313.80 211.19,313.80 211.71,313.80 212.24,313.80 212.76,313.80 213.29,313.80 213.81,313.80 214.34,313.80 214.86,313.80 215.39,313.80 215.92,313.80 216.44,313.80 216.97,313.80 217.49,313.80 218.02,313.80 218.54,313.80 219.07,313.80 219.59,313.80 220.12,313.80 220.65,313.80 221.17,313.80 221.70,313.80 222.22,313.80 222.75,313.80 223.27,313.80 223.80,313.80 224.32,313.80 224.85,313.80 225.38,313.80 225.90,313.80 226.43,313.80 226.95,313.80 227.48,313.80 228.05,313.80 228.61,313.80 229.18,313.80 229.75,313.80 230.32,313.80 230.89,313.80 231.46,313.80 232.03,313.80 232.60,313.80 233.17,313.80 233.74,313.80 234.31,313.80 234.88,313.80 235.45,313.80 236.02,313.80 236.59,313.80 237.16,313.80 237.73,313.80 238.30,313.80 238.87,313.80 239.44,313.80 240.00,313.80 240.57,313.80 241.14,313.80 241.71,313.80 242.28,313.80 242.85,313.80 243.42,313.80 243.99,313.80 244.56,313.80 245.13,313.80 245.70,313.80 246.27,313.80 246.84,313.80 247.41,313.80 247.98,313.80 248.55,313.80 249.12,313.80 249.69,313.80 250.26,313.80 250.83,313.80 251.39,313.80 251.96,313.80 252.53,313.80 253.10,313.80 253.67,313.80 254.24,313.80 254.81,313.80 255.38,313.80 255.95,313.80 256.52,313.80 257.09,313.80 257.66,313.80 258.23,313.80 258.80,313.80 259.37,313.80 259.94,313.80 260.51,313.80 261.08,313.80 261.65,313.80 262.22,313.80 262.79,313.80 263.35,313.80 263.92,313.80 264.49,313.80 265.06,313.80 265.63,313.80 266.20,313.80 266.77,313.80 267.34,313.80" fill="none" stroke="#1a1a40" stroke-width="0.0"/>
<circle cx="188.50" cy="313.80" r="1.6" fill="#1a1a40"/>
<line x1="227.50" y1="316.86" x2="227.50" y2="311.96" stroke="#1a1a40" stroke-width="1.0" />
<line x1="225.90" y1="311.96" x2="229.10" y2="311.96" stroke="#1a1a40" stroke-width="1.0" />
<line x1="225.90" y1="316.86" x2="229.10" y2="316.86" stroke="#1a1a40" stroke-width="1.0" />
<circle cx="227.50" cy="314.41" r="1.6" fill="#1a1a40"/>
<line x1="238.84" y1="317.47" x2="238.84" y2="313.80" stroke="#1a1a40" stroke-width="1.0" />
<line x1="237.24" y1="313.80" x2="240.44" y2="313.80" stroke="#1a1a40" stroke-width="1.0" />
<line x1="237.24" y1="317.47" x2="240.44" y2="317.47" stroke="#1a1a40" stroke-width="1.0" />
<circle cx="238.84" cy="315.64" r="1.6" fill="#1a1a40"/>
<line x1="247.42" y1="315.64" x2="247.42" y2="311.96" stroke="#1a1a40" stroke-width="1.0" />
<line x1="245.82" y1="311.96" x2="249.02" y2="311.96" stroke="#1a1a40" stroke-width="1.0" />
<line x1="245.82" y1="315.64" x2="249.02" y2="315.64" stroke="#1a1a40" stroke-width="1.0" />
<circle cx="247.42" cy="313.80" r="1.6" fill="#1a1a40"/>
<line x1="256.00" y1="316.86" x2="256.00" y2="311.96" stroke="#1a1a40" stroke-width="1.0" />
<line x1="254.40" y1="311.96" x2="257.60" y2="311.96" stroke="#1a1a40" stroke-width="1.0" />
<line x1="254.40" y1="316.86" x2="257.60" y2="316.86" stroke="#1a1a40" stroke-width="1.0" />
<circle cx="256.00" cy="314.41" r="1.6" fill="#1a1a40"/>
<line x1="267.34" y1="315.02" x2="267.34" y2="312.58" stroke="#1a1a40" stroke-width="1.0" />
<line x1="265.74" y1="312.58" x2="268.94" y2="312.58" stroke="#1a1a40" stroke-width="1.0" />
<line x1="265.74" y1="315.02" x2="268.94" y2="315.02" stroke="#1a1a40" stroke-width="1.0" />
<circle cx="267.34" cy="313.80" r="1.6" fill="#1a1a40"/>
<polyline points="201.20,313.80 201.73,313.80 202.25,313.80 202.78,313.80 203.30,313.80 203.83,313.80 204.35,313.80 204.88,313.80 205.40,313.80 205.93,313.80 206.46,313.80 206.98,313.80 207.51,313.80 208.03,313.80 208.56,313.80 209.08,313.80 209.61,313.80 210.13,313.80 210.66,313.80 211.19,313.80 211.71,313.80 212.24,313.80 212.76,313.80 213.29,313.80 213.81,313.80 214.34,313.80 214.86,313.80 215.39,313.80 215.92,313.80 216.44,313.80 216.97,313.80 217.49,313.80 218.02,313.80 218.54,313.80 219.07,313.80 219.59,313.80 220.12,313.80 220.65,313.80 221.17,313.80 221.70,313.80 222.22,313.80 222.75,313.80 223.27,313.80 223.80,313.80 224.32,313.80 224.85,313.80 225.38,313.80 225.90,313.80 226.43,313.80 226.95,313.80 227.48,313.80 228.05,313.80 228.61,313.80 229.18,313.80 229.75,313.80 230.32,313.80 230.89,313.80 231.46,313.80 232.03,313.80 232.60,313.80 233.17,313.80 233.74,313.80 234.31,313.80 234.88,313.80 235.45,313.80 236.02,313.80 236.59,313.80 237.16,313.80 237.73,313.80 238.30,313.80 238.87,313.80 239.44,313.80 240.00,313.80 240.57,313.80 241.14,313.80 241.71,313.80 242.28,313.80 242.85,313.80 243.42,313.80 243.99,313.80 244.56,313.80 245.13,313.80 245.70,313.80 246.27,313.80 246.84,313.80 247.41,313.80 247.98,313.80 248.55,313.80 249.12,313.80 249.69,313.80 250.26,313.80 250.83,313.80 251.39,313.80 251.96,313.80 252.53,313.80 253.10,313.80 253.67,313.80 254.24,313.80 254.81,313.80 255.38,313.80 255.95,313.80 256.52,313.80 257.09,313.80 257.66,313.80 258.23,313.80 258.80,313.80 259.37,313.80 259.94,313.80 260.51,313.80 261.08,313.80 261.65,313.80 262.22,313.80 262.79,313.80 263.35,313.80 263.92,313.80 264.49,313.80 265.06,313.80 265.63,313.80 266.20,313.80 266.77,313.80 267.34,313.80" fill="none" stroke="#3030b0" stroke-width="0.0"/>
<rect x="226.00" y="313.52" width="3.0" height="3.0" fill="#3030b0"/>
<rect x="237.34" y="313.52" width="3.0" height="3.0" fill="#3030b0"/>
<line x1="247.42" y1="316.86" x2="247.42" y2="307.07" stroke="#3030b0" stroke-width="1.0" />
<line x1="245.82" y1="307.07" x2="249.02" y2="307.07" stroke="#3030b0" stroke-width="1.0" />
<line x1="245.82" y1="316.86" x2="249.02" y2="316.86" stroke="#3030b0" stroke-width="1.0" />
<rect x="245.92" y="310.46" width="3.0" height="3.0" fill="#3030b0"/>
<rect x="254.50" y="312.30" width="3.0" height="3.0" fill="#3030b0"/>
<line x1="267.34" y1="316.25" x2="267.34" y2="308.90" stroke="#3030b0" stroke-width="1.0" />
<line x1="265.74" y1="308.90" x2="268.94" y2="308.90" stroke="#3030b0" stroke-width="1.0" />
<line x1="265.74" y1="316.25" x2="268.94" y2="316.25" stroke="#3030b0" stroke-width="1.0" />
<rect x="265.84" y="311.08" width="3.0" height="3.0" fill="#3030b0"/>
<line x1="35.00" y1="359.60" x2="35.00" y2="427.10" stroke="#111111" stroke-width="1.1" />
<line x1="32.70" y1="421.90" x2="35.00" y2="421.90" stroke="#111111" stroke-width="1.0" />
<text x="33.20" y="424.17" font-size="6.6" fill="#111111" text-anchor="end" font-weight="bold" stroke="#111111" stroke-width="0.3" >0</text>
<line x1="32.70" y1="409.54" x2="35.00" y2="409.54" stroke="#111111" stroke-width="1.0" />
<text x="33.20" y="411.81" font-size="6.6" fill="#111111" text-anchor="end" font-weight="bold" stroke="#111111" stroke-width="0.3" >20</text>
<line x1="32.70" y1="397.18" x2="35.00" y2="397.18" stroke="#111111" stroke-width="1.0" />
<text x="33.20" y="399.45" font-size="6.6" fill="#111111" text-anchor="end" font-weight="bold" stroke="#111111" stroke-width="0.3" >40</text>
<line x1="32.70" y1="384.82" x2="35.00" y2="384.82" stroke="#111111" stroke-width="1.0" />
<text x="33.20" y="387.09" font-size="6.6" fill="#111111" text-anchor="end" font-weight="bold" stroke="#111111" stroke-width="0.3" >60</text>
<line x1="32.70" y1="372.46" x2="35.00" y2="372.46" stroke="#111111" stroke-width="1.0" />
<text x="33.20" y="374.73" font-size="6.6" fill="#111111" text-anchor="end" font-weight="bold" stroke="#111111" stroke-width="0.3" >80</text>
<line x1="32.70" y1="360.10" x2="35.00" y2="360.10" stroke="#111111" stroke-width="1.0" />
<text x="33.20" y="362.37" font-size="6.6" fill="#111111" text-anchor="end" font-weight="bold" stroke="#111111" stroke-width="0.3" >100</text>
<line x1="35.00" y1="421.90" x2="44.80" y2="421.90" stroke="#111111" stroke-width="1.1" />
<line x1="39.80" y1="421.90" x2="39.80" y2="424.70" stroke="#111111" stroke-width="1.0" />
<line x1="44.40" y1="420.90" x2="44.40" y2="423.30" stroke="#444" stroke-width="0.9" />
<text x="39.80" y="431.96" font-size="6.0" fill="#111111" text-anchor="middle" font-weight="bold" stroke="#111111" stroke-width="0.3" >0</text>
<line x1="50.20" y1="421.90" x2="136.00" y2="421.90" stroke="#111111" stroke-width="1.1" />
<line x1="51.60" y1="421.90" x2="51.60" y2="424.50" stroke="#111111" stroke-width="0.7" />
<line x1="59.70" y1="421.90" x2="59.70" y2="423.30" stroke="#111111" stroke-width="0.7" />
<line x1="64.43" y1="421.90" x2="64.43" y2="423.30" stroke="#111111" stroke-width="0.7" />
<line x1="67.80" y1="421.90" x2="67.80" y2="423.30" stroke="#111111" stroke-width="0.7" />
<line x1="70.40" y1="421.90" x2="70.40" y2="423.30" stroke="#111111" stroke-width="0.7" />
<line x1="72.53" y1="421.90" x2="72.53" y2="423.30" stroke="#111111" stroke-width="0.7" />
<line x1="74.33" y1="421.90" x2="74.33" y2="423.30" stroke="#111111" stroke-width="0.7" />
<line x1="75.89" y1="421.90" x2="75.89" y2="423.30" stroke="#111111" stroke-width="0.7" />
<line x1="77.27" y1="421.90" x2="77.27" y2="423.30" stroke="#111111" stroke-width="0.7" />
<line x1="78.50" y1="421.90" x2="78.50" y2="424.50" stroke="#111111" stroke-width="0.7" />
<line x1="87.08" y1="421.90" x2="87.08" y2="423.30" stroke="#111111" stroke-width="0.7" />
<line x1="92.10" y1="421.90" x2="92.10" y2="423.30" stroke="#111111" stroke-width="0.7" />
<line x1="95.66" y1="421.90" x2="95.66" y2="423.30" stroke="#111111" stroke-width="0.7" />
<line x1="98.42" y1="421.90" x2="98.42" y2="423.30" stroke="#111111" stroke-width="0.7" />
<line x1="100.68" y1="421.90" x2="100.68" y2="423.30" stroke="#111111" stroke-width="0.7" />
<line x1="102.59" y1="421.90" x2="102.59" y2="423.30" stroke="#111111" stroke-width="0.7" />
<line x1="104.24" y1="421.90" x2="104.24" y2="423.30" stroke="#111111" stroke-width="0.7" />
<line x1="105.70" y1="421.90" x2="105.70" y2="423.30" stroke="#111111" stroke-width="0.7" />
<line x1="107.00" y1="421.90" x2="107.00" y2="424.50" stroke="#111111" stroke-width="0.7" />
<line x1="115.58" y1="421.90" x2="115.58" y2="423.30" stroke="#111111" stroke-width="0.7" />
<line x1="120.60" y1="421.90" x2="120.60" y2="423.30" stroke="#111111" stroke-width="0.7" />
<line x1="124.16" y1="421.90" x2="124.16" y2="423.30" stroke="#111111" stroke-width="0.7" />
<line x1="126.92" y1="421.90" x2="126.92" y2="423.30" stroke="#111111" stroke-width="0.7" />
<line x1="129.18" y1="421.90" x2="129.18" y2="423.30" stroke="#111111" stroke-width="0.7" />
<line x1="131.09" y1="421.90" x2="131.09" y2="423.30" stroke="#111111" stroke-width="0.7" />
<line x1="132.74" y1="421.90" x2="132.74" y2="423.30" stroke="#111111" stroke-width="0.7" />
<line x1="134.20" y1="421.90" x2="134.20" y2="423.30" stroke="#111111" stroke-width="0.7" />
<line x1="136.00" y1="421.90" x2="136.00" y2="424.50" stroke="#111111" stroke-width="0.7" />
<text x="52.20" y="432.60" font-size="6.1" fill="#111111" text-anchor="middle" font-weight="bold" stroke="#111111" stroke-width="0.3" >1</text>
<text x="78.50" y="432.60" font-size="6.1" fill="#111111" text-anchor="middle" font-weight="bold" stroke="#111111" stroke-width="0.3" >10</text>
<text x="107.00" y="432.60" font-size="6.1" fill="#111111" text-anchor="middle" font-weight="bold" stroke="#111111" stroke-width="0.3" >100</text>
<text x="136.00" y="432.60" font-size="6.1" fill="#111111" text-anchor="middle" font-weight="bold" stroke="#111111" stroke-width="0.3" >1,000</text>
<text x="85.65" y="444.86" font-size="8.3" fill="#111111" text-anchor="middle" font-weight="bold" stroke="#111111" stroke-width="0.3" >AMG 330 (pg/mL)</text>
<text transform="translate(17.29,392.30) rotate(-90)" x="0" y="0" font-size="8.1" fill="#111111" text-anchor="middle" font-weight="bold" stroke="#111111" stroke-width="0.3">% Cytotoxicity</text>
<text x="39.80" y="369.84" font-size="6.5" fill="#111111" text-anchor="start" font-weight="bold" stroke="#111111" stroke-width="0.3" >E:T = 1:1</text>
<rect x="38.50" y="377.30" width="35.30" height="29.80" fill="white" stroke="#111" stroke-width="1.0"/>
<text x="40.40" y="384.50" font-size="6.4" fill="#111111" text-anchor="start" font-weight="bold" stroke="#111111" stroke-width="0.3" >EC50</text>
<line x1="40.50" y1="385.20" x2="55.70" y2="385.20" stroke="#111111" stroke-width="0.8" />
<text x="40.80" y="391.47" font-size="5.45" fill="#111111" text-anchor="start" font-weight="bold" stroke="#111111" stroke-width="0.3" >not reached</text>
<text x="40.80" y="397.97" font-size="5.45" fill="#2e2eba" text-anchor="start" font-weight="bold" stroke="#2e2eba" stroke-width="0.3" >107.9 pg/mL</text>
<text x="40.80" y="404.47" font-size="5.45" fill="#cf2c2c" text-anchor="start" font-weight="bold" stroke="#cf2c2c" stroke-width="0.3" >66.9 pg/mL</text>
<polyline points="51.60,421.83 52.14,421.83 52.68,421.82 53.21,421.82 53.75,421.81 54.29,421.80 54.83,421.80 55.36,421.79 55.90,421.78 56.44,421.77 56.98,421.77 57.51,421.76 58.05,421.75 58.59,421.73 59.13,421.72 59.66,421.71 60.20,421.70 60.74,421.68 61.28,421.67 61.81,421.65 62.35,421.63 62.89,421.61 63.43,421.59 63.96,421.57 64.50,421.55 65.04,421.52 65.58,421.50 66.11,421.47 66.65,421.44 67.19,421.41 67.73,421.37 68.26,421.33 68.80,421.29 69.34,421.25 69.88,421.21 70.41,421.16 70.95,421.10 71.49,421.05 72.03,420.99 72.56,420.93 73.10,420.86 73.64,420.79 74.18,420.71 74.71,420.63 75.25,420.54 75.79,420.45 76.33,420.35 76.86,420.24 77.40,420.13 77.94,420.01 78.48,419.88 79.05,419.74 79.61,419.60 80.18,419.45 80.75,419.28 81.32,419.11 81.89,418.93 82.46,418.73 83.03,418.53 83.60,418.31 84.17,418.08 84.74,417.84 85.31,417.58 85.88,417.31 86.45,417.02 87.02,416.72 87.59,416.41 88.16,416.08 88.73,415.73 89.30,415.37 89.87,414.99 90.44,414.59 91.00,414.18 91.57,413.75 92.14,413.30 92.71,412.84 93.28,412.35 93.85,411.86 94.42,411.34 94.99,410.82 95.56,410.27 96.13,409.71 96.70,409.14 97.27,408.56 97.84,407.96 98.41,407.36 98.98,406.74 99.55,406.12 100.12,405.49 100.69,404.86 101.26,404.22 101.83,403.58 102.39,402.94 102.96,402.31 103.53,401.67 104.10,401.04 104.67,400.41 105.24,399.79 105.81,399.18 106.38,398.58 106.95,397.98 107.52,397.40 108.09,396.84 108.66,396.28 109.23,395.74 109.80,395.22 110.37,394.71 110.94,394.22 111.51,393.74 112.08,393.28 112.65,392.84 113.22,392.42 113.79,392.01 114.35,391.62 114.92,391.24 115.49,390.88 116.06,390.54 116.63,390.22 117.20,389.90 117.77,389.61 118.34,389.33" fill="none" stroke="#e82020" stroke-width="1.0"/>
<polygon points="76.60,419.88 80.40,419.88 78.50,423.18" fill="#e82020"/>
<polygon points="87.94,417.41 91.74,417.41 89.84,420.71" fill="#e82020"/>
<polygon points="96.52,408.76 100.32,408.76 98.42,412.06" fill="#e82020"/>
<polygon points="105.10,397.02 108.90,397.02 107.00,400.32" fill="#e82020"/>
<line x1="118.34" y1="392.85" x2="118.34" y2="387.91" stroke="#e82020" stroke-width="1.0" />
<line x1="116.74" y1="387.91" x2="119.94" y2="387.91" stroke="#e82020" stroke-width="1.0" />
<line x1="116.74" y1="392.85" x2="119.94" y2="392.85" stroke="#e82020" stroke-width="1.0" />
<polygon points="116.44,388.98 120.24,388.98 118.34,392.28" fill="#e82020"/>
<polyline points="51.60,421.90 52.14,421.90 52.68,421.90 53.21,421.90 53.75,421.90 54.29,421.90 54.83,421.90 55.36,421.90 55.90,421.90 56.44,421.90 56.98,421.90 57.51,421.90 58.05,421.90 58.59,421.90 59.13,421.90 59.66,421.90 60.20,421.90 60.74,421.90 61.28,421.90 61.81,421.90 62.35,421.90 62.89,421.90 63.43,421.90 63.96,421.90 64.50,421.90 65.04,421.90 65.58,421.90 66.11,421.90 66.65,421.90 67.19,421.90 67.73,421.90 68.26,421.90 68.80,421.90 69.34,421.90 69.88,421.90 70.41,421.90 70.95,421.90 71.49,421.90 72.03,421.90 72.56,421.90 73.10,421.90 73.64,421.90 74.18,421.90 74.71,421.90 75.25,421.90 75.79,421.90 76.33,421.90 76.86,421.90 77.40,421.90 77.94,421.90 78.48,421.90 79.05,421.90 79.61,421.90 80.18,421.90 80.75,421.90 81.32,421.90 81.89,421.89 82.46,421.89 83.03,421.89 83.60,421.89 84.17,421.89 84.74,421.89 85.31,421.88 85.88,421.88 86.45,421.88 87.02,421.87 87.59,421.86 88.16,421.86 88.73,421.85 89.30,421.84 89.87,421.82 90.44,421.81 91.00,421.79 91.57,421.77 92.14,421.74 92.71,421.71 93.28,421.67 93.85,421.63 94.42,421.58 94.99,421.51 95.56,421.43 96.13,421.34 96.70,421.23 97.27,421.10 97.84,420.94 98.41,420.76 98.98,420.54 99.55,420.28 100.12,419.98 100.69,419.63 101.26,419.22 101.83,418.74 102.39,418.19 102.96,417.57 103.53,416.86 104.10,416.08 104.67,415.20 105.24,414.25 105.81,413.22 106.38,412.12 106.95,410.98 107.52,409.80 108.09,408.61 108.66,407.42 109.23,406.26 109.80,405.14 110.37,404.08 110.94,403.09 111.51,402.17 112.08,401.35 112.65,400.60 113.22,399.94 113.79,399.35 114.35,398.85 114.92,398.40 115.49,398.02 116.06,397.70 116.63,397.42 117.20,397.18 117.77,396.98 118.34,396.81" fill="none" stroke="#1c1ce0" stroke-width="1.0"/>
<line x1="78.50" y1="423.14" x2="78.50" y2="420.66" stroke="#1c1ce0" stroke-width="1.0" />
<line x1="76.90" y1="420.66" x2="80.10" y2="420.66" stroke="#1c1ce0" stroke-width="1.0" />
<line x1="76.90" y1="423.14" x2="80.10" y2="423.14" stroke="#1c1ce0" stroke-width="1.0" />
<rect x="77.00" y="420.40" width="3.0" height="3.0" fill="#1c1ce0"/>
<rect x="88.34" y="420.40" width="3.0" height="3.0" fill="#1c1ce0"/>
<rect x="96.92" y="419.78" width="3.0" height="3.0" fill="#1c1ce0"/>
<line x1="107.00" y1="414.48" x2="107.00" y2="410.78" stroke="#1c1ce0" stroke-width="1.0" />
<line x1="105.40" y1="410.78" x2="108.60" y2="410.78" stroke="#1c1ce0" stroke-width="1.0" />
<line x1="105.40" y1="414.48" x2="108.60" y2="414.48" stroke="#1c1ce0" stroke-width="1.0" />
<rect x="105.50" y="411.13" width="3.0" height="3.0" fill="#1c1ce0"/>
<line x1="118.34" y1="402.74" x2="118.34" y2="396.56" stroke="#1c1ce0" stroke-width="1.0" />
<line x1="116.74" y1="396.56" x2="119.94" y2="396.56" stroke="#1c1ce0" stroke-width="1.0" />
<line x1="116.74" y1="402.74" x2="119.94" y2="402.74" stroke="#1c1ce0" stroke-width="1.0" />
<rect x="116.84" y="398.15" width="3.0" height="3.0" fill="#1c1ce0"/>
<polyline points="51.60,421.90 52.14,421.90 52.68,421.90 53.21,421.90 53.75,421.90 54.29,421.90 54.83,421.90 55.36,421.90 55.90,421.90 56.44,421.90 56.98,421.90 57.51,421.90 58.05,421.90 58.59,421.90 59.13,421.90 59.66,421.90 60.20,421.90 60.74,421.90 61.28,421.90 61.81,421.90 62.35,421.90 62.89,421.90 63.43,421.90 63.96,421.90 64.50,421.90 65.04,421.90 65.58,421.90 66.11,421.90 66.65,421.90 67.19,421.90 67.73,421.90 68.26,421.90 68.80,421.90 69.34,421.90 69.88,421.90 70.41,421.90 70.95,421.90 71.49,421.90 72.03,421.90 72.56,421.90 73.10,421.90 73.64,421.90 74.18,421.90 74.71,421.90 75.25,421.90 75.79,421.90 76.33,421.90 76.86,421.90 77.40,421.90 77.94,421.90 78.48,421.90 79.05,421.90 79.61,421.90 80.18,421.90 80.75,421.90 81.32,421.90 81.89,421.90 82.46,421.90 83.03,421.90 83.60,421.90 84.17,421.90 84.74,421.90 85.31,421.90 85.88,421.90 86.45,421.90 87.02,421.90 87.59,421.90 88.16,421.90 88.73,421.90 89.30,421.90 89.87,421.90 90.44,421.90 91.00,421.90 91.57,421.90 92.14,421.90 92.71,421.90 93.28,421.90 93.85,421.90 94.42,421.90 94.99,421.90 95.56,421.90 96.13,421.90 96.70,421.90 97.27,421.90 97.84,421.90 98.41,421.90 98.98,421.89 99.55,421.89 100.12,421.88 100.69,421.86 101.26,421.83 101.83,421.77 102.39,421.65 102.96,421.44 103.53,421.05 104.10,420.36 104.67,419.23 105.24,417.56 105.81,415.42 106.38,413.16 106.95,411.20 107.52,409.78 108.09,408.87 108.66,408.33 109.23,408.03 109.80,407.87 110.37,407.78 110.94,407.74 111.51,407.71 112.08,407.70 112.65,407.69 113.22,407.69 113.79,407.69 114.35,407.69 114.92,407.69 115.49,407.69 116.06,407.69 116.63,407.69 117.20,407.69 117.77,407.69 118.34,407.69" fill="none" stroke="#1a1a3a" stroke-width="1.0"/>
<circle cx="39.80" cy="421.90" r="1.6" fill="#1a1a3a"/>
<circle cx="78.50" cy="421.90" r="1.6" fill="#1a1a3a"/>
<line x1="89.84" y1="423.75" x2="89.84" y2="421.28" stroke="#1a1a3a" stroke-width="1.0" />
<line x1="88.24" y1="421.28" x2="91.44" y2="421.28" stroke="#1a1a3a" stroke-width="1.0" />
<line x1="88.24" y1="423.75" x2="91.44" y2="423.75" stroke="#1a1a3a" stroke-width="1.0" />
<circle cx="89.84" cy="422.52" r="1.6" fill="#1a1a3a"/>
<line x1="98.42" y1="423.14" x2="98.42" y2="420.66" stroke="#1a1a3a" stroke-width="1.0" />
<line x1="96.82" y1="420.66" x2="100.02" y2="420.66" stroke="#1a1a3a" stroke-width="1.0" />
<line x1="96.82" y1="423.14" x2="100.02" y2="423.14" stroke="#1a1a3a" stroke-width="1.0" />
<circle cx="98.42" cy="421.90" r="1.6" fill="#1a1a3a"/>
<circle cx="107.00" cy="416.96" r="1.6" fill="#1a1a3a"/>
<line x1="118.34" y1="409.54" x2="118.34" y2="405.83" stroke="#1a1a3a" stroke-width="1.0" />
<line x1="116.74" y1="405.83" x2="119.94" y2="405.83" stroke="#1a1a3a" stroke-width="1.0" />
<line x1="116.74" y1="409.54" x2="119.94" y2="409.54" stroke="#1a1a3a" stroke-width="1.0" />
<circle cx="118.34" cy="407.69" r="1.6" fill="#1a1a3a"/>
<text x="62.60" y="353.70" font-size="9.0" fill="#111111" text-anchor="middle" font-weight="bold" stroke="#111111" stroke-width="0.3" >KG-1a</text>
<line x1="178.20" y1="359.90" x2="178.20" y2="427.20" stroke="#111111" stroke-width="1.1" />
<line x1="175.90" y1="422.00" x2="178.20" y2="422.00" stroke="#111111" stroke-width="1.0" />
<text x="176.40" y="424.27" font-size="6.6" fill="#111111" text-anchor="end" font-weight="bold" stroke="#111111" stroke-width="0.3" >0</text>
<line x1="175.90" y1="409.68" x2="178.20" y2="409.68" stroke="#111111" stroke-width="1.0" />
<text x="176.40" y="411.95" font-size="6.6" fill="#111111" text-anchor="end" font-weight="bold" stroke="#111111" stroke-width="0.3" >20</text>
<line x1="175.90" y1="397.36" x2="178.20" y2="397.36" stroke="#111111" stroke-width="1.0" />
<text x="176.40" y="399.63" font-size="6.6" fill="#111111" text-anchor="end" font-weight="bold" stroke="#111111" stroke-width="0.3" >40</text>
<line x1="175.90" y1="385.04" x2="178.20" y2="385.04" stroke="#111111" stroke-width="1.0" />
<text x="176.40" y="387.31" font-size="6.6" fill="#111111" text-anchor="end" font-weight="bold" stroke="#111111" stroke-width="0.3" >60</text>
<line x1="175.90" y1="372.72" x2="178.20" y2="372.72" stroke="#111111" stroke-width="1.0" />
<text x="176.40" y="374.99" font-size="6.6" fill="#111111" text-anchor="end" font-weight="bold" stroke="#111111" stroke-width="0.3" >80</text>
<line x1="175.90" y1="360.40" x2="178.20" y2="360.40" stroke="#111111" stroke-width="1.0" />
<text x="176.40" y="362.67" font-size="6.6" fill="#111111" text-anchor="end" font-weight="bold" stroke="#111111" stroke-width="0.3" >100</text>
<line x1="178.20" y1="422.00" x2="188.00" y2="422.00" stroke="#111111" stroke-width="1.1" />
<line x1="183.00" y1="422.00" x2="183.00" y2="424.80" stroke="#111111" stroke-width="1.0" />
<line x1="187.60" y1="421.00" x2="187.60" y2="423.40" stroke="#444" stroke-width="0.9" />
<text x="183.00" y="432.06" font-size="6.0" fill="#111111" text-anchor="middle" font-weight="bold" stroke="#111111" stroke-width="0.3" >0</text>
<line x1="193.40" y1="422.00" x2="278.80" y2="422.00" stroke="#111111" stroke-width="1.1" />
<line x1="193.40" y1="422.00" x2="193.40" y2="424.60" stroke="#111111" stroke-width="0.7" />
<line x1="201.53" y1="422.00" x2="201.53" y2="423.40" stroke="#111111" stroke-width="0.7" />
<line x1="206.28" y1="422.00" x2="206.28" y2="423.40" stroke="#111111" stroke-width="0.7" />
<line x1="209.66" y1="422.00" x2="209.66" y2="423.40" stroke="#111111" stroke-width="0.7" />
<line x1="212.27" y1="422.00" x2="212.27" y2="423.40" stroke="#111111" stroke-width="0.7" />
<line x1="214.41" y1="422.00" x2="214.41" y2="423.40" stroke="#111111" stroke-width="0.7" />
<line x1="216.22" y1="422.00" x2="216.22" y2="423.40" stroke="#111111" stroke-width="0.7" />
<line x1="217.78" y1="422.00" x2="217.78" y2="423.40" stroke="#111111" stroke-width="0.7" />
<line x1="219.16" y1="422.00" x2="219.16" y2="423.40" stroke="#111111" stroke-width="0.7" />
<line x1="220.40" y1="422.00" x2="220.40" y2="424.60" stroke="#111111" stroke-width="0.7" />
<line x1="229.19" y1="422.00" x2="229.19" y2="423.40" stroke="#111111" stroke-width="0.7" />
<line x1="234.33" y1="422.00" x2="234.33" y2="423.40" stroke="#111111" stroke-width="0.7" />
<line x1="237.98" y1="422.00" x2="237.98" y2="423.40" stroke="#111111" stroke-width="0.7" />
<line x1="240.81" y1="422.00" x2="240.81" y2="423.40" stroke="#111111" stroke-width="0.7" />
<line x1="243.12" y1="422.00" x2="243.12" y2="423.40" stroke="#111111" stroke-width="0.7" />
<line x1="245.08" y1="422.00" x2="245.08" y2="423.40" stroke="#111111" stroke-width="0.7" />
<line x1="246.77" y1="422.00" x2="246.77" y2="423.40" stroke="#111111" stroke-width="0.7" />
<line x1="248.26" y1="422.00" x2="248.26" y2="423.40" stroke="#111111" stroke-width="0.7" />
<line x1="249.60" y1="422.00" x2="249.60" y2="424.60" stroke="#111111" stroke-width="0.7" />
<line x1="258.39" y1="422.00" x2="258.39" y2="423.40" stroke="#111111" stroke-width="0.7" />
<line x1="263.53" y1="422.00" x2="263.53" y2="423.40" stroke="#111111" stroke-width="0.7" />
<line x1="267.18" y1="422.00" x2="267.18" y2="423.40" stroke="#111111" stroke-width="0.7" />
<line x1="270.01" y1="422.00" x2="270.01" y2="423.40" stroke="#111111" stroke-width="0.7" />
<line x1="272.32" y1="422.00" x2="272.32" y2="423.40" stroke="#111111" stroke-width="0.7" />
<line x1="274.28" y1="422.00" x2="274.28" y2="423.40" stroke="#111111" stroke-width="0.7" />
<line x1="275.97" y1="422.00" x2="275.97" y2="423.40" stroke="#111111" stroke-width="0.7" />
<line x1="277.46" y1="422.00" x2="277.46" y2="423.40" stroke="#111111" stroke-width="0.7" />
<line x1="278.80" y1="422.00" x2="278.80" y2="424.60" stroke="#111111" stroke-width="0.7" />
<text x="194.00" y="432.70" font-size="6.1" fill="#111111" text-anchor="middle" font-weight="bold" stroke="#111111" stroke-width="0.3" >1</text>
<text x="220.40" y="432.70" font-size="6.1" fill="#111111" text-anchor="middle" font-weight="bold" stroke="#111111" stroke-width="0.3" >10</text>
<text x="249.60" y="432.70" font-size="6.1" fill="#111111" text-anchor="middle" font-weight="bold" stroke="#111111" stroke-width="0.3" >100</text>
<text x="278.80" y="432.70" font-size="6.1" fill="#111111" text-anchor="middle" font-weight="bold" stroke="#111111" stroke-width="0.3" >1,000</text>
<text x="228.45" y="444.86" font-size="8.3" fill="#111111" text-anchor="middle" font-weight="bold" stroke="#111111" stroke-width="0.3" >AMG 330 (pg/mL)</text>
<text transform="translate(160.49,392.60) rotate(-90)" x="0" y="0" font-size="8.1" fill="#111111" text-anchor="middle" font-weight="bold" stroke="#111111" stroke-width="0.3">% Cytotoxicity</text>
<text x="183.00" y="369.84" font-size="6.5" fill="#111111" text-anchor="start" font-weight="bold" stroke="#111111" stroke-width="0.3" >E:T = 3:1</text>
<rect x="181.70" y="377.10" width="31.60" height="29.80" fill="white" stroke="#111" stroke-width="1.0"/>
<text x="183.60" y="384.30" font-size="6.4" fill="#111111" text-anchor="start" font-weight="bold" stroke="#111111" stroke-width="0.3" >EC50</text>
<line x1="183.70" y1="385.00" x2="198.90" y2="385.00" stroke="#111111" stroke-width="0.8" />
<text x="184.00" y="391.27" font-size="5.45" fill="#111111" text-anchor="start" font-weight="bold" stroke="#111111" stroke-width="0.3" >96.4 pg/mL</text>
<text x="184.00" y="397.77" font-size="5.45" fill="#2e2eba" text-anchor="start" font-weight="bold" stroke="#2e2eba" stroke-width="0.3" >73.4 pg/mL</text>
<text x="184.00" y="404.27" font-size="5.45" fill="#cf2c2c" text-anchor="start" font-weight="bold" stroke="#cf2c2c" stroke-width="0.3" >48.0 pg/mL</text>
<polyline points="193.40,421.95 193.94,421.94 194.48,421.94 195.02,421.93 195.56,421.93 196.10,421.92 196.64,421.91 197.18,421.90 197.72,421.90 198.26,421.89 198.80,421.88 199.33,421.87 199.87,421.86 200.41,421.84 200.95,421.83 201.49,421.82 202.03,421.80 202.57,421.78 203.11,421.76 203.65,421.74 204.19,421.72 204.73,421.70 205.27,421.67 205.81,421.64 206.35,421.61 206.89,421.58 207.43,421.54 207.97,421.51 208.51,421.46 209.05,421.42 209.59,421.37 210.13,421.31 210.67,421.25 211.20,421.19 211.74,421.12 212.28,421.05 212.82,420.97 213.36,420.88 213.90,420.79 214.44,420.68 214.98,420.57 215.52,420.45 216.06,420.32 216.60,420.18 217.14,420.03 217.68,419.87 218.22,419.69 218.76,419.50 219.30,419.29 219.84,419.07 220.38,418.83 220.96,418.58 221.54,418.30 222.13,418.00 222.71,417.68 223.29,417.34 223.88,416.98 224.46,416.58 225.04,416.16 225.63,415.72 226.21,415.24 226.79,414.73 227.38,414.19 227.96,413.61 228.54,413.00 229.13,412.36 229.71,411.68 230.29,410.96 230.88,410.21 231.46,409.41 232.04,408.58 232.63,407.72 233.21,406.81 233.80,405.88 234.38,404.90 234.96,403.90 235.55,402.86 236.13,401.80 236.71,400.71 237.30,399.60 237.88,398.47 238.46,397.32 239.05,396.16 239.63,394.99 240.21,393.82 240.80,392.65 241.38,391.48 241.96,390.32 242.55,389.17 243.13,388.03 243.71,386.91 244.30,385.82 244.88,384.75 245.47,383.70 246.05,382.69 246.63,381.71 247.22,380.76 247.80,379.85 248.38,378.97 248.97,378.13 249.55,377.33 250.13,376.57 250.72,375.84 251.30,375.15 251.88,374.49 252.47,373.88 253.05,373.29 253.63,372.74 254.22,372.22 254.80,371.74 255.38,371.28 255.97,370.85 256.55,370.46 257.14,370.08 257.72,369.73 258.30,369.41 258.89,369.11 259.47,368.82 260.05,368.56 260.64,368.32 261.22,368.09" fill="none" stroke="#e82020" stroke-width="1.0"/>
<line x1="220.40" y1="420.77" x2="220.40" y2="417.07" stroke="#e82020" stroke-width="1.0" />
<line x1="218.80" y1="417.07" x2="222.00" y2="417.07" stroke="#e82020" stroke-width="1.0" />
<line x1="218.80" y1="420.77" x2="222.00" y2="420.77" stroke="#e82020" stroke-width="1.0" />
<polygon points="218.50,417.52 222.30,417.52 220.40,420.82" fill="#e82020"/>
<polygon points="230.12,403.97 233.92,403.97 232.02,407.27" fill="#e82020"/>
<line x1="240.81" y1="394.90" x2="240.81" y2="389.97" stroke="#e82020" stroke-width="1.0" />
<line x1="239.21" y1="389.97" x2="242.41" y2="389.97" stroke="#e82020" stroke-width="1.0" />
<line x1="239.21" y1="394.90" x2="242.41" y2="394.90" stroke="#e82020" stroke-width="1.0" />
<polygon points="238.91,391.03 242.71,391.03 240.81,394.33" fill="#e82020"/>
<line x1="249.60" y1="381.96" x2="249.60" y2="377.03" stroke="#e82020" stroke-width="1.0" />
<line x1="248.00" y1="377.03" x2="251.20" y2="377.03" stroke="#e82020" stroke-width="1.0" />
<line x1="248.00" y1="381.96" x2="251.20" y2="381.96" stroke="#e82020" stroke-width="1.0" />
<polygon points="247.70,378.10 251.50,378.10 249.60,381.40" fill="#e82020"/>
<polygon points="259.32,367.01 263.12,367.01 261.22,370.31" fill="#e82020"/>
<polyline points="193.40,422.37 193.94,422.37 194.48,422.36 195.02,422.36 195.56,422.36 196.10,422.36 196.64,422.36 197.18,422.36 197.72,422.36 198.26,422.36 198.80,422.36 199.33,422.36 199.87,422.36 200.41,422.35 200.95,422.35 201.49,422.35 202.03,422.35 202.57,422.35 203.11,422.34 203.65,422.34 204.19,422.34 204.73,422.34 205.27,422.33 205.81,422.33 206.35,422.32 206.89,422.32 207.43,422.31 207.97,422.31 208.51,422.30 209.05,422.29 209.59,422.29 210.13,422.28 210.67,422.27 211.20,422.26 211.74,422.24 212.28,422.23 212.82,422.22 213.36,422.20 213.90,422.18 214.44,422.16 214.98,422.14 215.52,422.12 216.06,422.09 216.60,422.06 217.14,422.03 217.68,421.99 218.22,421.95 218.76,421.91 219.30,421.86 219.84,421.81 220.38,421.75 220.96,421.68 221.54,421.61 222.13,421.53 222.71,421.44 223.29,421.34 223.88,421.24 224.46,421.12 225.04,420.99 225.63,420.85 226.21,420.69 226.79,420.52 227.38,420.33 227.96,420.12 228.54,419.89 229.13,419.64 229.71,419.37 230.29,419.07 230.88,418.74 231.46,418.39 232.04,418.00 232.63,417.58 233.21,417.12 233.80,416.63 234.38,416.09 234.96,415.51 235.55,414.89 236.13,414.22 236.71,413.50 237.30,412.73 237.88,411.92 238.46,411.05 239.05,410.14 239.63,409.17 240.21,408.16 240.80,407.10 241.38,406.00 241.96,404.85 242.55,403.67 243.13,402.46 243.71,401.22 244.30,399.96 244.88,398.68 245.47,397.40 246.05,396.11 246.63,394.83 247.22,393.56 247.80,392.30 248.38,391.07 248.97,389.86 249.55,388.69 250.13,387.56 250.72,386.47 251.30,385.42 251.88,384.42 252.47,383.47 253.05,382.57 253.63,381.71 254.22,380.91 254.80,380.16 255.38,379.45 255.97,378.80 256.55,378.19 257.14,377.62 257.72,377.09 258.30,376.61 258.89,376.16 259.47,375.75 260.05,375.37 260.64,375.02 261.22,374.70" fill="none" stroke="#1c1ce0" stroke-width="1.0"/>
<rect x="218.90" y="420.50" width="3.0" height="3.0" fill="#1c1ce0"/>
<rect x="230.52" y="417.42" width="3.0" height="3.0" fill="#1c1ce0"/>
<rect x="239.31" y="404.48" width="3.0" height="3.0" fill="#1c1ce0"/>
<line x1="249.60" y1="393.66" x2="249.60" y2="388.74" stroke="#1c1ce0" stroke-width="1.0" />
<line x1="248.00" y1="388.74" x2="251.20" y2="388.74" stroke="#1c1ce0" stroke-width="1.0" />
<line x1="248.00" y1="393.66" x2="251.20" y2="393.66" stroke="#1c1ce0" stroke-width="1.0" />
<rect x="248.10" y="389.70" width="3.0" height="3.0" fill="#1c1ce0"/>
<line x1="261.22" y1="380.73" x2="261.22" y2="374.57" stroke="#1c1ce0" stroke-width="1.0" />
<line x1="259.62" y1="374.57" x2="262.82" y2="374.57" stroke="#1c1ce0" stroke-width="1.0" />
<line x1="259.62" y1="380.73" x2="262.82" y2="380.73" stroke="#1c1ce0" stroke-width="1.0" />
<rect x="259.72" y="376.15" width="3.0" height="3.0" fill="#1c1ce0"/>
<polyline points="193.40,422.00 193.94,421.99 194.48,421.99 195.02,421.99 195.56,421.99 196.10,421.99 196.64,421.99 197.18,421.99 197.72,421.99 198.26,421.99 198.80,421.99 199.33,421.99 199.87,421.99 200.41,421.98 200.95,421.98 201.49,421.98 202.03,421.98 202.57,421.98 203.11,421.98 203.65,421.97 204.19,421.97 204.73,421.97 205.27,421.96 205.81,421.96 206.35,421.96 206.89,421.95 207.43,421.95 207.97,421.94 208.51,421.94 209.05,421.93 209.59,421.92 210.13,421.92 210.67,421.91 211.20,421.90 211.74,421.89 212.28,421.88 212.82,421.87 213.36,421.86 213.90,421.84 214.44,421.83 214.98,421.81 215.52,421.79 216.06,421.77 216.60,421.75 217.14,421.73 217.68,421.70 218.22,421.67 218.76,421.64 219.30,421.61 219.84,421.57 220.38,421.53 220.96,421.48 221.54,421.44 222.13,421.38 222.71,421.32 223.29,421.26 223.88,421.19 224.46,421.11 225.04,421.03 225.63,420.94 226.21,420.84 226.79,420.73 227.38,420.61 227.96,420.48 228.54,420.34 229.13,420.19 229.71,420.02 230.29,419.84 230.88,419.64 231.46,419.43 232.04,419.19 232.63,418.94 233.21,418.67 233.80,418.38 234.38,418.06 234.96,417.71 235.55,417.34 236.13,416.95 236.71,416.52 237.30,416.06 237.88,415.57 238.46,415.05 239.05,414.49 239.63,413.90 240.21,413.28 240.80,412.61 241.38,411.91 241.96,411.18 242.55,410.41 243.13,409.60 243.71,408.76 244.30,407.89 244.88,406.99 245.47,406.07 246.05,405.12 246.63,404.14 247.22,403.15 247.80,402.15 248.38,401.14 248.97,400.12 249.55,399.10 250.13,398.08 250.72,397.07 251.30,396.07 251.88,395.09 252.47,394.13 253.05,393.19 253.63,392.27 254.22,391.38 254.80,390.53 255.38,389.70 255.97,388.91 256.55,388.16 257.14,387.44 257.72,386.75 258.30,386.10 258.89,385.49 259.47,384.92 260.05,384.37 260.64,383.86 261.22,383.39" fill="none" stroke="#1a1a3a" stroke-width="1.0"/>
<circle cx="183.00" cy="422.00" r="1.6" fill="#1a1a3a"/>
<line x1="220.40" y1="423.23" x2="220.40" y2="420.77" stroke="#1a1a3a" stroke-width="1.0" />
<line x1="218.80" y1="420.77" x2="222.00" y2="420.77" stroke="#1a1a3a" stroke-width="1.0" />
<line x1="218.80" y1="423.23" x2="222.00" y2="423.23" stroke="#1a1a3a" stroke-width="1.0" />
<circle cx="220.40" cy="422.00" r="1.6" fill="#1a1a3a"/>
<line x1="232.02" y1="422.00" x2="232.02" y2="419.54" stroke="#1a1a3a" stroke-width="1.0" />
<line x1="230.42" y1="419.54" x2="233.62" y2="419.54" stroke="#1a1a3a" stroke-width="1.0" />
<line x1="230.42" y1="422.00" x2="233.62" y2="422.00" stroke="#1a1a3a" stroke-width="1.0" />
<circle cx="232.02" cy="420.77" r="1.6" fill="#1a1a3a"/>
<circle cx="240.81" cy="415.22" r="1.6" fill="#1a1a3a"/>
<line x1="249.60" y1="404.14" x2="249.60" y2="399.21" stroke="#1a1a3a" stroke-width="1.0" />
<line x1="248.00" y1="399.21" x2="251.20" y2="399.21" stroke="#1a1a3a" stroke-width="1.0" />
<line x1="248.00" y1="404.14" x2="251.20" y2="404.14" stroke="#1a1a3a" stroke-width="1.0" />
<circle cx="249.60" cy="401.67" r="1.6" fill="#1a1a3a"/>
<line x1="261.22" y1="389.35" x2="261.22" y2="383.19" stroke="#1a1a3a" stroke-width="1.0" />
<line x1="259.62" y1="383.19" x2="262.82" y2="383.19" stroke="#1a1a3a" stroke-width="1.0" />
<line x1="259.62" y1="389.35" x2="262.82" y2="389.35" stroke="#1a1a3a" stroke-width="1.0" />
<circle cx="261.22" cy="386.27" r="1.6" fill="#1a1a3a"/>
<line x1="320.00" y1="359.90" x2="320.00" y2="427.90" stroke="#111111" stroke-width="1.1" />
<line x1="317.70" y1="422.70" x2="320.00" y2="422.70" stroke="#111111" stroke-width="1.0" />
<text x="318.20" y="424.97" font-size="6.6" fill="#111111" text-anchor="end" font-weight="bold" stroke="#111111" stroke-width="0.3" >0</text>
<line x1="317.70" y1="410.24" x2="320.00" y2="410.24" stroke="#111111" stroke-width="1.0" />
<text x="318.20" y="412.51" font-size="6.6" fill="#111111" text-anchor="end" font-weight="bold" stroke="#111111" stroke-width="0.3" >20</text>
<line x1="317.70" y1="397.78" x2="320.00" y2="397.78" stroke="#111111" stroke-width="1.0" />
<text x="318.20" y="400.05" font-size="6.6" fill="#111111" text-anchor="end" font-weight="bold" stroke="#111111" stroke-width="0.3" >40</text>
<line x1="317.70" y1="385.32" x2="320.00" y2="385.32" stroke="#111111" stroke-width="1.0" />
<text x="318.20" y="387.59" font-size="6.6" fill="#111111" text-anchor="end" font-weight="bold" stroke="#111111" stroke-width="0.3" >60</text>
<line x1="317.70" y1="372.86" x2="320.00" y2="372.86" stroke="#111111" stroke-width="1.0" />
<text x="318.20" y="375.13" font-size="6.6" fill="#111111" text-anchor="end" font-weight="bold" stroke="#111111" stroke-width="0.3" >80</text>
<line x1="317.70" y1="360.40" x2="320.00" y2="360.40" stroke="#111111" stroke-width="1.0" />
<text x="318.20" y="362.67" font-size="6.6" fill="#111111" text-anchor="end" font-weight="bold" stroke="#111111" stroke-width="0.3" >100</text>
<line x1="320.00" y1="422.70" x2="329.80" y2="422.70" stroke="#111111" stroke-width="1.1" />
<line x1="324.80" y1="422.70" x2="324.80" y2="425.50" stroke="#111111" stroke-width="1.0" />
<line x1="329.40" y1="421.70" x2="329.40" y2="424.10" stroke="#444" stroke-width="0.9" />
<text x="324.80" y="432.76" font-size="6.0" fill="#111111" text-anchor="middle" font-weight="bold" stroke="#111111" stroke-width="0.3" >0</text>
<line x1="335.20" y1="422.70" x2="421.00" y2="422.70" stroke="#111111" stroke-width="1.1" />
<line x1="335.80" y1="422.70" x2="335.80" y2="425.30" stroke="#111111" stroke-width="0.7" />
<line x1="343.90" y1="422.70" x2="343.90" y2="424.10" stroke="#111111" stroke-width="0.7" />
<line x1="348.63" y1="422.70" x2="348.63" y2="424.10" stroke="#111111" stroke-width="0.7" />
<line x1="352.00" y1="422.70" x2="352.00" y2="424.10" stroke="#111111" stroke-width="0.7" />
<line x1="354.60" y1="422.70" x2="354.60" y2="424.10" stroke="#111111" stroke-width="0.7" />
<line x1="356.73" y1="422.70" x2="356.73" y2="424.10" stroke="#111111" stroke-width="0.7" />
<line x1="358.53" y1="422.70" x2="358.53" y2="424.10" stroke="#111111" stroke-width="0.7" />
<line x1="360.09" y1="422.70" x2="360.09" y2="424.10" stroke="#111111" stroke-width="0.7" />
<line x1="361.47" y1="422.70" x2="361.47" y2="424.10" stroke="#111111" stroke-width="0.7" />
<line x1="362.70" y1="422.70" x2="362.70" y2="425.30" stroke="#111111" stroke-width="0.7" />
<line x1="371.46" y1="422.70" x2="371.46" y2="424.10" stroke="#111111" stroke-width="0.7" />
<line x1="376.58" y1="422.70" x2="376.58" y2="424.10" stroke="#111111" stroke-width="0.7" />
<line x1="380.22" y1="422.70" x2="380.22" y2="424.10" stroke="#111111" stroke-width="0.7" />
<line x1="383.04" y1="422.70" x2="383.04" y2="424.10" stroke="#111111" stroke-width="0.7" />
<line x1="385.34" y1="422.70" x2="385.34" y2="424.10" stroke="#111111" stroke-width="0.7" />
<line x1="387.29" y1="422.70" x2="387.29" y2="424.10" stroke="#111111" stroke-width="0.7" />
<line x1="388.98" y1="422.70" x2="388.98" y2="424.10" stroke="#111111" stroke-width="0.7" />
<line x1="390.47" y1="422.70" x2="390.47" y2="424.10" stroke="#111111" stroke-width="0.7" />
<line x1="391.80" y1="422.70" x2="391.80" y2="425.30" stroke="#111111" stroke-width="0.7" />
<line x1="400.56" y1="422.70" x2="400.56" y2="424.10" stroke="#111111" stroke-width="0.7" />
<line x1="405.68" y1="422.70" x2="405.68" y2="424.10" stroke="#111111" stroke-width="0.7" />
<line x1="409.32" y1="422.70" x2="409.32" y2="424.10" stroke="#111111" stroke-width="0.7" />
<line x1="412.14" y1="422.70" x2="412.14" y2="424.10" stroke="#111111" stroke-width="0.7" />
<line x1="414.44" y1="422.70" x2="414.44" y2="424.10" stroke="#111111" stroke-width="0.7" />
<line x1="416.39" y1="422.70" x2="416.39" y2="424.10" stroke="#111111" stroke-width="0.7" />
<line x1="418.08" y1="422.70" x2="418.08" y2="424.10" stroke="#111111" stroke-width="0.7" />
<line x1="419.57" y1="422.70" x2="419.57" y2="424.10" stroke="#111111" stroke-width="0.7" />
<line x1="421.00" y1="422.70" x2="421.00" y2="425.30" stroke="#111111" stroke-width="0.7" />
<text x="336.40" y="433.40" font-size="6.1" fill="#111111" text-anchor="middle" font-weight="bold" stroke="#111111" stroke-width="0.3" >1</text>
<text x="362.70" y="433.40" font-size="6.1" fill="#111111" text-anchor="middle" font-weight="bold" stroke="#111111" stroke-width="0.3" >10</text>
<text x="391.80" y="433.40" font-size="6.1" fill="#111111" text-anchor="middle" font-weight="bold" stroke="#111111" stroke-width="0.3" >100</text>
<text x="421.00" y="433.40" font-size="6.1" fill="#111111" text-anchor="middle" font-weight="bold" stroke="#111111" stroke-width="0.3" >1,000</text>
<text x="371.15" y="444.86" font-size="8.3" fill="#111111" text-anchor="middle" font-weight="bold" stroke="#111111" stroke-width="0.3" >AMG 330 (pg/mL)</text>
<text transform="translate(302.29,392.60) rotate(-90)" x="0" y="0" font-size="8.1" fill="#111111" text-anchor="middle" font-weight="bold" stroke="#111111" stroke-width="0.3">% Cytotoxicity</text>
<text x="324.80" y="369.84" font-size="6.5" fill="#111111" text-anchor="start" font-weight="bold" stroke="#111111" stroke-width="0.3" >E:T = 10:1</text>
<rect x="323.50" y="377.10" width="32.30" height="29.80" fill="white" stroke="#111" stroke-width="1.0"/>
<text x="325.40" y="384.30" font-size="6.4" fill="#111111" text-anchor="start" font-weight="bold" stroke="#111111" stroke-width="0.3" >EC50</text>
<line x1="325.50" y1="385.00" x2="340.70" y2="385.00" stroke="#111111" stroke-width="0.8" />
<text x="325.80" y="391.27" font-size="5.45" fill="#111111" text-anchor="start" font-weight="bold" stroke="#111111" stroke-width="0.3" >59.6 pg/mL</text>
<text x="325.80" y="397.77" font-size="5.45" fill="#2e2eba" text-anchor="start" font-weight="bold" stroke="#2e2eba" stroke-width="0.3" >36.5 pg/mL</text>
<text x="325.80" y="404.27" font-size="5.45" fill="#cf2c2c" text-anchor="start" font-weight="bold" stroke="#cf2c2c" stroke-width="0.3" >25.0 pg/mL</text>
<polyline points="335.80,422.70 336.34,422.69 336.88,422.69 337.41,422.69 337.95,422.69 338.49,422.69 339.03,422.69 339.56,422.69 340.10,422.69 340.64,422.69 341.18,422.69 341.71,422.69 342.25,422.68 342.79,422.68 343.33,422.68 343.86,422.68 344.40,422.68 344.94,422.67 345.48,422.67 346.01,422.67 346.55,422.66 347.09,422.66 347.63,422.65 348.16,422.65 348.70,422.64 349.24,422.64 349.78,422.63 350.31,422.62 350.85,422.61 351.39,422.60 351.93,422.59 352.46,422.58 353.00,422.57 353.54,422.55 354.08,422.54 354.61,422.52 355.15,422.50 355.69,422.47 356.23,422.45 356.76,422.42 357.30,422.39 357.84,422.36 358.38,422.32 358.91,422.27 359.45,422.23 359.99,422.18 360.53,422.12 361.06,422.05 361.60,421.98 362.14,421.90 362.68,421.82 363.26,421.72 363.84,421.61 364.42,421.49 365.00,421.36 365.58,421.21 366.16,421.05 366.75,420.88 367.33,420.68 367.91,420.46 368.49,420.23 369.07,419.96 369.65,419.67 370.23,419.36 370.82,419.01 371.40,418.63 371.98,418.21 372.56,417.75 373.14,417.26 373.72,416.72 374.31,416.13 374.89,415.49 375.47,414.80 376.05,414.06 376.63,413.26 377.21,412.41 377.79,411.49 378.38,410.52 378.96,409.49 379.54,408.40 380.12,407.25 380.70,406.05 381.28,404.80 381.86,403.50 382.45,402.16 383.03,400.78 383.61,399.37 384.19,397.95 384.77,396.50 385.35,395.05 385.94,393.61 386.52,392.17 387.10,390.74 387.68,389.35 388.26,387.98 388.84,386.65 389.42,385.37 390.01,384.13 390.59,382.95 391.17,381.82 391.75,380.75 392.33,379.74 392.91,378.78 393.49,377.89 394.08,377.05 394.66,376.27 395.24,375.55 395.82,374.87 396.40,374.25 396.98,373.68 397.57,373.15 398.15,372.67 398.73,372.23 399.31,371.82 399.89,371.45 400.47,371.11 401.05,370.81 401.64,370.53 402.22,370.27 402.80,370.04 403.38,369.83" fill="none" stroke="#111111" stroke-width="1.0"/>
<circle cx="324.80" cy="422.70" r="1.6" fill="#111111"/>
<line x1="374.28" y1="420.21" x2="374.28" y2="415.22" stroke="#111111" stroke-width="1.0" />
<line x1="372.68" y1="415.22" x2="375.88" y2="415.22" stroke="#111111" stroke-width="1.0" />
<line x1="372.68" y1="420.21" x2="375.88" y2="420.21" stroke="#111111" stroke-width="1.0" />
<circle cx="374.28" cy="417.72" r="1.6" fill="#111111"/>
<line x1="383.04" y1="404.01" x2="383.04" y2="397.78" stroke="#111111" stroke-width="1.0" />
<line x1="381.44" y1="397.78" x2="384.64" y2="397.78" stroke="#111111" stroke-width="1.0" />
<line x1="381.44" y1="404.01" x2="384.64" y2="404.01" stroke="#111111" stroke-width="1.0" />
<circle cx="383.04" cy="400.89" r="1.6" fill="#111111"/>
<line x1="391.80" y1="388.44" x2="391.80" y2="379.71" stroke="#111111" stroke-width="1.0" />
<line x1="390.20" y1="379.71" x2="393.40" y2="379.71" stroke="#111111" stroke-width="1.0" />
<line x1="390.20" y1="388.44" x2="393.40" y2="388.44" stroke="#111111" stroke-width="1.0" />
<circle cx="391.80" cy="384.07" r="1.6" fill="#111111"/>
<circle cx="403.38" cy="370.99" r="1.6" fill="#111111"/>
<polyline points="335.80,423.69 336.34,423.69 336.88,423.69 337.41,423.69 337.95,423.69 338.49,423.69 339.03,423.69 339.56,423.68 340.10,423.68 340.64,423.68 341.18,423.68 341.71,423.68 342.25,423.68 342.79,423.67 343.33,423.67 343.86,423.67 344.40,423.66 344.94,423.66 345.48,423.65 346.01,423.65 346.55,423.64 347.09,423.63 347.63,423.63 348.16,423.62 348.70,423.61 349.24,423.60 349.78,423.58 350.31,423.57 350.85,423.55 351.39,423.53 351.93,423.51 352.46,423.49 353.00,423.46 353.54,423.43 354.08,423.40 354.61,423.36 355.15,423.32 355.69,423.27 356.23,423.22 356.76,423.16 357.30,423.09 357.84,423.02 358.38,422.93 358.91,422.83 359.45,422.73 359.99,422.60 360.53,422.47 361.06,422.32 361.60,422.15 362.14,421.95 362.68,421.74 363.26,421.50 363.84,421.23 364.42,420.93 365.00,420.60 365.58,420.23 366.16,419.82 366.75,419.36 367.33,418.86 367.91,418.30 368.49,417.68 369.07,417.01 369.65,416.26 370.23,415.45 370.82,414.57 371.40,413.61 371.98,412.57 372.56,411.44 373.14,410.24 373.72,408.96 374.31,407.60 374.89,406.16 375.47,404.65 376.05,403.08 376.63,401.45 377.21,399.77 377.79,398.05 378.38,396.31 378.96,394.55 379.54,392.79 380.12,391.04 380.70,389.31 381.28,387.61 381.86,385.96 382.45,384.37 383.03,382.84 383.61,381.37 384.19,379.98 384.77,378.67 385.35,377.44 385.94,376.29 386.52,375.22 387.10,374.23 387.68,373.32 388.26,372.48 388.84,371.71 389.42,371.01 390.01,370.37 390.59,369.80 391.17,369.27 391.75,368.80 392.33,368.37 392.91,367.99 393.49,367.64 394.08,367.33 394.66,367.05 395.24,366.80 395.82,366.58 396.40,366.38 396.98,366.20 397.57,366.04 398.15,365.90 398.73,365.77 399.31,365.66 399.89,365.56 400.47,365.47 401.05,365.39 401.64,365.32 402.22,365.26 402.80,365.20 403.38,365.15" fill="none" stroke="#1c1ce0" stroke-width="1.2"/>
<line x1="374.28" y1="405.88" x2="374.28" y2="402.14" stroke="#1c1ce0" stroke-width="1.0" />
<line x1="372.68" y1="402.14" x2="375.88" y2="402.14" stroke="#1c1ce0" stroke-width="1.0" />
<line x1="372.68" y1="405.88" x2="375.88" y2="405.88" stroke="#1c1ce0" stroke-width="1.0" />
<rect x="372.78" y="402.51" width="3.0" height="3.0" fill="#1c1ce0"/>
<line x1="383.04" y1="387.81" x2="383.04" y2="384.07" stroke="#1c1ce0" stroke-width="1.0" />
<line x1="381.44" y1="384.07" x2="384.64" y2="384.07" stroke="#1c1ce0" stroke-width="1.0" />
<line x1="381.44" y1="387.81" x2="384.64" y2="387.81" stroke="#1c1ce0" stroke-width="1.0" />
<rect x="381.54" y="384.44" width="3.0" height="3.0" fill="#1c1ce0"/>
<rect x="390.30" y="368.25" width="3.0" height="3.0" fill="#1c1ce0"/>
<rect x="401.88" y="364.51" width="3.0" height="3.0" fill="#1c1ce0"/>
<polyline points="335.80,422.68 336.34,422.68 336.88,422.68 337.41,422.67 337.95,422.67 338.49,422.67 339.03,422.66 339.56,422.66 340.10,422.65 340.64,422.65 341.18,422.64 341.71,422.63 342.25,422.63 342.79,422.62 343.33,422.61 343.86,422.59 344.40,422.58 344.94,422.57 345.48,422.55 346.01,422.53 346.55,422.51 347.09,422.49 347.63,422.47 348.16,422.44 348.70,422.41 349.24,422.37 349.78,422.33 350.31,422.28 350.85,422.23 351.39,422.18 351.93,422.12 352.46,422.04 353.00,421.97 353.54,421.88 354.08,421.78 354.61,421.67 355.15,421.55 355.69,421.41 356.23,421.25 356.76,421.08 357.30,420.89 357.84,420.68 358.38,420.44 358.91,420.18 359.45,419.88 359.99,419.56 360.53,419.20 361.06,418.80 361.60,418.36 362.14,417.88 362.68,417.34 363.26,416.76 363.84,416.11 364.42,415.41 365.00,414.64 365.58,413.81 366.16,412.91 366.75,411.93 367.33,410.89 367.91,409.76 368.49,408.57 369.07,407.30 369.65,405.96 370.23,404.55 370.82,403.08 371.40,401.55 371.98,399.97 372.56,398.35 373.14,396.70 373.72,395.03 374.31,393.35 374.89,391.66 375.47,389.99 376.05,388.35 376.63,386.73 377.21,385.16 377.79,383.63 378.38,382.17 378.96,380.76 379.54,379.43 380.12,378.17 380.70,376.98 381.28,375.86 381.86,374.82 382.45,373.85 383.03,372.95 383.61,372.13 384.19,371.37 384.77,370.67 385.35,370.03 385.94,369.45 386.52,368.92 387.10,368.44 387.68,368.00 388.26,367.61 388.84,367.25 389.42,366.93 390.01,366.64 390.59,366.38 391.17,366.14 391.75,365.93 392.33,365.74 392.91,365.57 393.49,365.42 394.08,365.28 394.66,365.16 395.24,365.05 395.82,364.95 396.40,364.87 396.98,364.79 397.57,364.72 398.15,364.65 398.73,364.60 399.31,364.55 399.89,364.50 400.47,364.47 401.05,364.43 401.64,364.40 402.22,364.37 402.80,364.35 403.38,364.32" fill="none" stroke="#e82020" stroke-width="1.1"/>
<polygon points="360.80,415.69 364.60,415.69 362.70,418.99" fill="#e82020"/>
<polygon points="372.38,391.40 376.18,391.40 374.28,394.70" fill="#e82020"/>
<line x1="383.04" y1="375.97" x2="383.04" y2="372.24" stroke="#e82020" stroke-width="1.0" />
<line x1="381.44" y1="372.24" x2="384.64" y2="372.24" stroke="#e82020" stroke-width="1.0" />
<line x1="381.44" y1="375.97" x2="384.64" y2="375.97" stroke="#e82020" stroke-width="1.0" />
<polygon points="381.14,372.71 384.94,372.71 383.04,376.01" fill="#e82020"/>
<polygon points="389.90,363.98 393.70,363.98 391.80,367.28" fill="#e82020"/>
<polygon points="401.48,363.36 405.28,363.36 403.38,366.66" fill="#e82020"/>
<polyline points="335.80,422.70 336.34,422.70 336.88,422.70 337.41,422.70 337.95,422.70 338.49,422.70 339.03,422.70 339.56,422.70 340.10,422.70 340.64,422.70 341.18,422.70 341.71,422.70 342.25,422.70 342.79,422.70 343.33,422.70 343.86,422.70 344.40,422.70 344.94,422.70 345.48,422.70 346.01,422.70 346.55,422.70 347.09,422.70 347.63,422.70 348.16,422.70 348.70,422.70 349.24,422.70 349.78,422.70 350.31,422.70 350.85,422.70 351.39,422.70 351.93,422.70 352.46,422.70 353.00,422.70 353.54,422.70 354.08,422.70 354.61,422.70 355.15,422.70 355.69,422.70 356.23,422.70 356.76,422.70 357.30,422.70 357.84,422.70 358.38,422.70 358.91,422.70 359.45,422.70 359.99,422.70 360.53,422.70 361.06,422.70 361.60,422.70 362.14,422.70 362.68,422.70 363.26,422.70 363.84,422.70 364.42,422.70 365.00,422.70 365.58,422.70 366.16,422.70 366.75,422.70 367.33,422.70 367.91,422.70 368.49,422.70 369.07,422.70 369.65,422.70 370.23,422.70 370.82,422.70 371.40,422.70 371.98,422.70 372.56,422.70 373.14,422.70 373.72,422.70 374.31,422.70 374.89,422.70 375.47,422.70 376.05,422.70 376.63,422.70 377.21,422.70 377.79,422.70 378.38,422.70 378.96,422.70 379.54,422.70 380.12,422.70 380.70,422.70 381.28,422.70 381.86,422.70 382.45,422.70 383.03,422.70 383.61,422.70 384.19,422.70 384.77,422.70 385.35,422.70 385.94,422.70 386.52,422.70 387.10,422.70 387.68,422.70 388.26,422.70 388.84,422.70 389.42,422.70 390.01,422.70 390.59,422.70 391.17,422.70 391.75,422.70 392.33,422.70 392.91,422.70 393.49,422.70 394.08,422.70 394.66,422.70 395.24,422.70 395.82,422.70 396.40,422.70 396.98,422.70 397.57,422.70 398.15,422.70 398.73,422.70 399.31,422.70 399.89,422.70 400.47,422.70 401.05,422.70 401.64,422.70 402.22,422.70 402.80,422.70 403.38,422.70" fill="none" stroke="#1a1a4a" stroke-width="0.0"/>
<line x1="362.70" y1="425.19" x2="362.70" y2="421.45" stroke="#1a1a4a" stroke-width="1.0" />
<line x1="361.10" y1="421.45" x2="364.30" y2="421.45" stroke="#1a1a4a" stroke-width="1.0" />
<line x1="361.10" y1="425.19" x2="364.30" y2="425.19" stroke="#1a1a4a" stroke-width="1.0" />
<rect x="361.20" y="421.82" width="3.0" height="3.0" fill="#1a1a4a"/>
<line x1="277.40" y1="30.60" x2="284.80" y2="30.60" stroke="#111111" stroke-width="0.9" />
<circle cx="281.10" cy="30.60" r="1.2" fill="#111111"/>
<text x="289.00" y="33.09" font-size="7.25" fill="#111111" text-anchor="start" font-weight="bold" stroke="#111111" stroke-width="0.3" >Parental</text>
<line x1="277.40" y1="38.60" x2="284.80" y2="38.60" stroke="#1c1ce0" stroke-width="0.9" />
<circle cx="281.10" cy="38.60" r="1.2" fill="#1c1ce0"/>
<text x="289.00" y="41.09" font-size="7.25" fill="#2e2eba" text-anchor="start" font-weight="bold" stroke="#2e2eba" stroke-width="0.3" >+CD33 (low MOI)</text>
<line x1="277.40" y1="46.60" x2="284.80" y2="46.60" stroke="#1f8a1f" stroke-width="0.9" />
<circle cx="281.10" cy="46.60" r="1.2" fill="#1f8a1f"/>
<text x="289.00" y="49.09" font-size="7.25" fill="#2e802e" text-anchor="start" font-weight="bold" stroke="#2e802e" stroke-width="0.3" >+CD33 (intermediate MOI)</text>
<line x1="277.40" y1="54.50" x2="284.80" y2="54.50" stroke="#e82020" stroke-width="0.9" />
<circle cx="281.10" cy="54.50" r="1.2" fill="#e82020"/>
<text x="289.00" y="56.99" font-size="7.25" fill="#cf2c2c" text-anchor="start" font-weight="bold" stroke="#cf2c2c" stroke-width="0.3" >+CD33 (high MOI)</text>
<line x1="418.90" y1="138.40" x2="426.40" y2="138.40" stroke="#111111" stroke-width="0.9" />
<circle cx="422.65" cy="138.40" r="1.2" fill="#111111"/>
<text x="431.00" y="140.89" font-size="7.25" fill="#111111" text-anchor="start" font-weight="bold" stroke="#111111" stroke-width="0.3" >Parental</text>
<line x1="418.90" y1="146.30" x2="426.40" y2="146.30" stroke="#1c1ce0" stroke-width="0.9" />
<circle cx="422.65" cy="146.30" r="1.2" fill="#1c1ce0"/>
<text x="431.00" y="148.79" font-size="7.25" fill="#2e2eba" text-anchor="start" font-weight="bold" stroke="#2e2eba" stroke-width="0.3" >+CD33 (low MOI)</text>
<line x1="418.90" y1="154.20" x2="426.40" y2="154.20" stroke="#1f8a1f" stroke-width="0.9" />
<circle cx="422.65" cy="154.20" r="1.2" fill="#1f8a1f"/>
<text x="431.00" y="156.69" font-size="7.25" fill="#2e802e" text-anchor="start" font-weight="bold" stroke="#2e802e" stroke-width="0.3" >+CD33 (intermediate MOI)</text>
<line x1="418.90" y1="162.10" x2="426.40" y2="162.10" stroke="#e82020" stroke-width="0.9" />
<circle cx="422.65" cy="162.10" r="1.2" fill="#e82020"/>
<text x="431.00" y="164.59" font-size="7.25" fill="#cf2c2c" text-anchor="start" font-weight="bold" stroke="#cf2c2c" stroke-width="0.3" >+CD33 (high MOI)</text>
<line x1="281.80" y1="257.70" x2="289.40" y2="257.70" stroke="#111111" stroke-width="0.9" />
<circle cx="285.60" cy="257.70" r="1.2" fill="#111111"/>
<text x="294.00" y="260.19" font-size="7.25" fill="#111111" text-anchor="start" font-weight="bold" stroke="#111111" stroke-width="0.3" >Parental</text>
<line x1="281.80" y1="265.80" x2="289.40" y2="265.80" stroke="#1c1ce0" stroke-width="0.9" />
<circle cx="285.60" cy="265.80" r="1.2" fill="#1c1ce0"/>
<text x="294.00" y="268.29" font-size="7.25" fill="#2e2eba" text-anchor="start" font-weight="bold" stroke="#2e2eba" stroke-width="0.3" >+CD33 (low MOI)</text>
<line x1="281.80" y1="273.80" x2="289.40" y2="273.80" stroke="#e82020" stroke-width="0.9" />
<circle cx="285.60" cy="273.80" r="1.2" fill="#e82020"/>
<text x="294.00" y="276.29" font-size="7.25" fill="#cf2c2c" text-anchor="start" font-weight="bold" stroke="#cf2c2c" stroke-width="0.3" >+CD33 (high MOI)</text>
<line x1="418.40" y1="366.60" x2="425.90" y2="366.60" stroke="#111111" stroke-width="0.9" />
<circle cx="422.15" cy="366.60" r="1.2" fill="#111111"/>
<text x="430.60" y="369.09" font-size="7.25" fill="#111111" text-anchor="start" font-weight="bold" stroke="#111111" stroke-width="0.3" >Parental</text>
<line x1="418.40" y1="374.50" x2="425.90" y2="374.50" stroke="#1c1ce0" stroke-width="0.9" />
<circle cx="422.15" cy="374.50" r="1.2" fill="#1c1ce0"/>
<text x="430.60" y="376.99" font-size="7.25" fill="#2e2eba" text-anchor="start" font-weight="bold" stroke="#2e2eba" stroke-width="0.3" >+CD33 (low MOI)</text>
<line x1="418.40" y1="382.40" x2="425.90" y2="382.40" stroke="#e82020" stroke-width="0.9" />
<circle cx="422.15" cy="382.40" r="1.2" fill="#e82020"/>
<text x="430.60" y="384.89" font-size="7.25" fill="#cf2c2c" text-anchor="start" font-weight="bold" stroke="#cf2c2c" stroke-width="0.3" >+CD33 (high MOI)</text>
</svg>
</body></html>
